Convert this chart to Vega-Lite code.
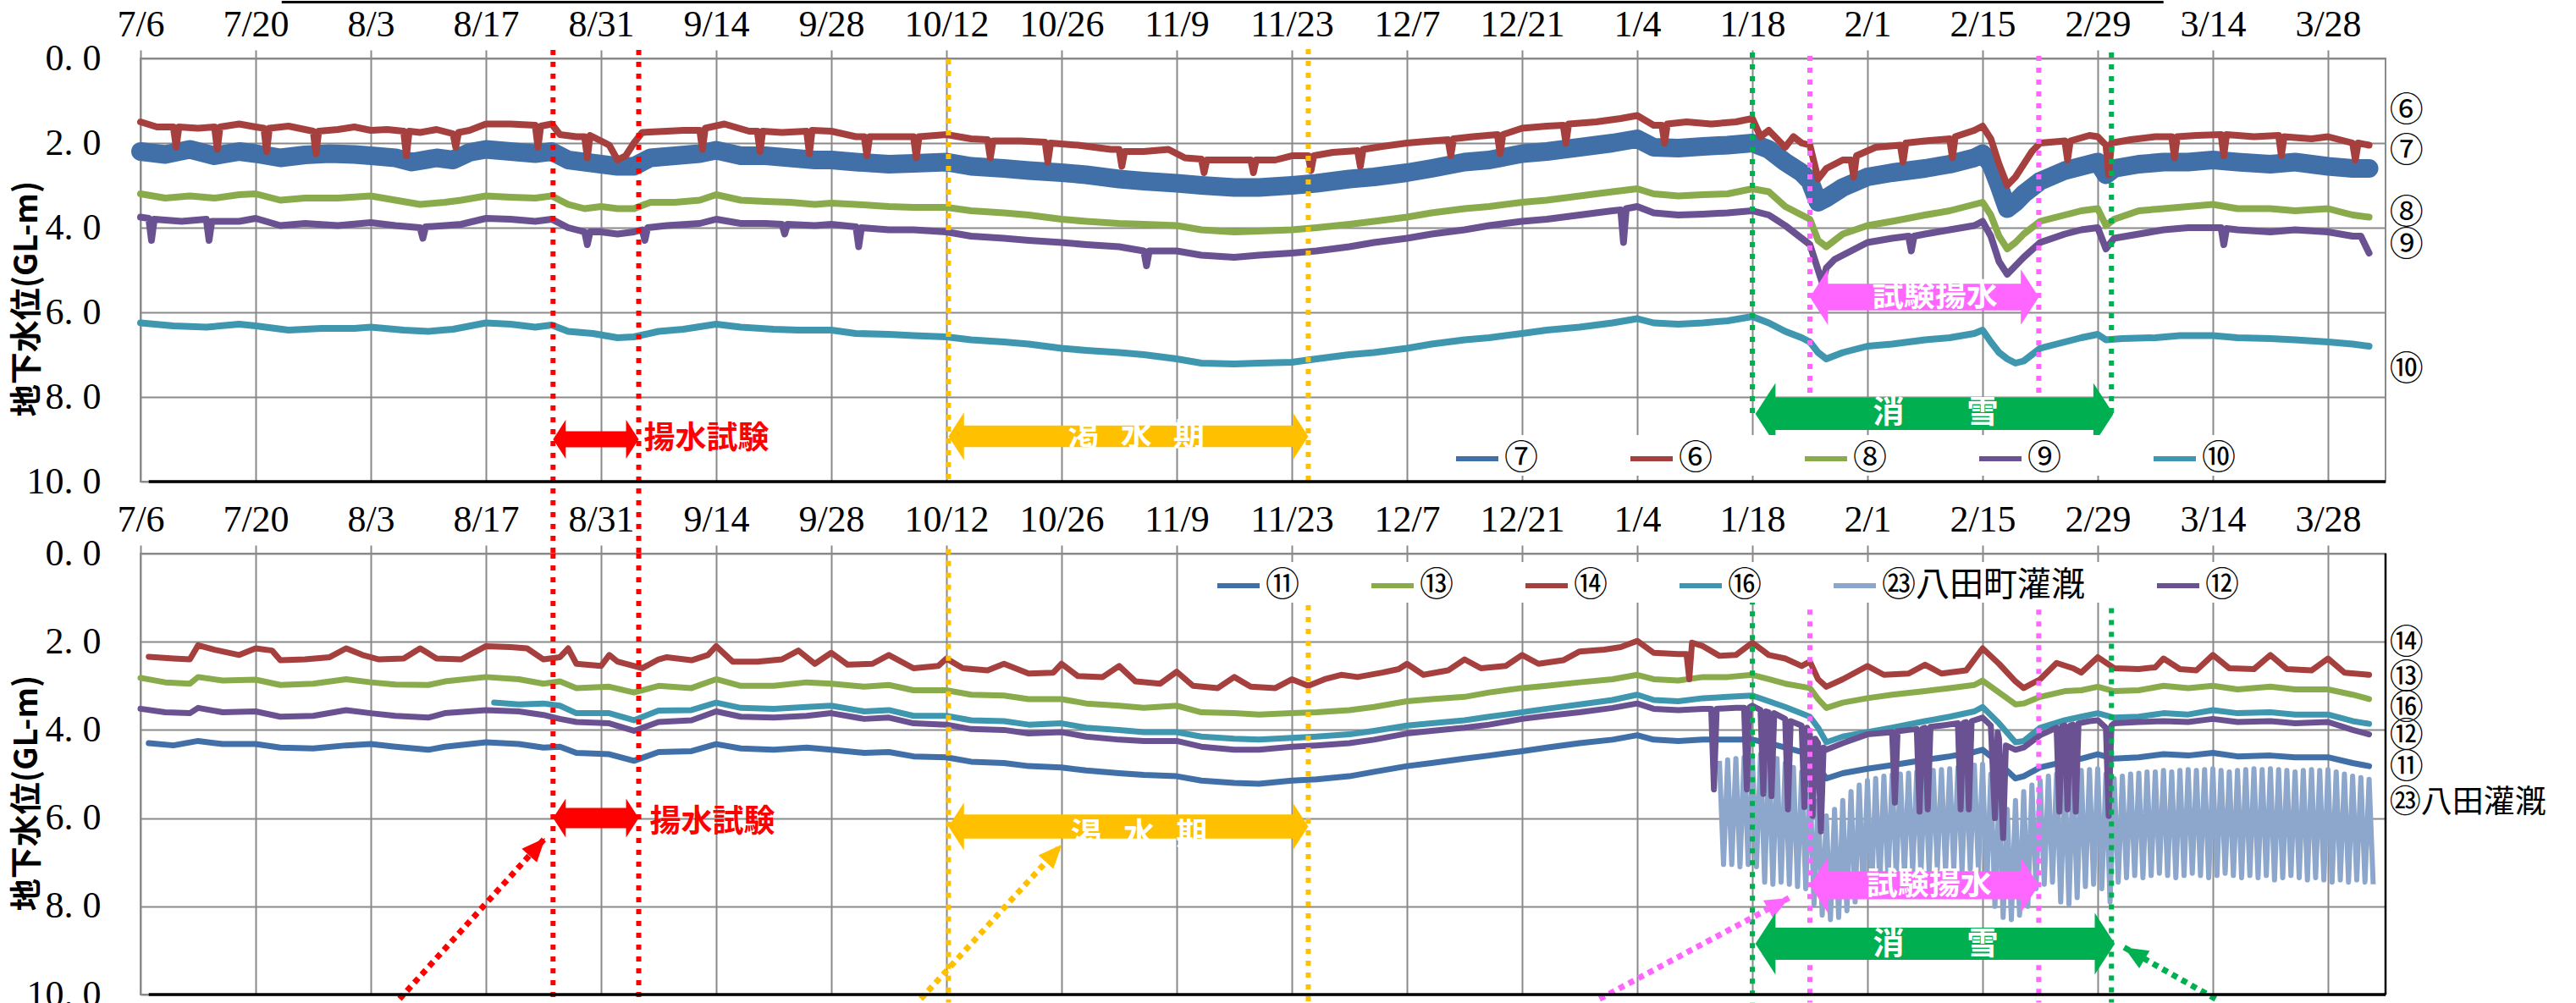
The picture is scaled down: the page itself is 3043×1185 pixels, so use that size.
{
"$schema":"https://vega.github.io/schema/vega-lite/v6.json",
"background":"white",
"padding":{"left":12,"top":0,"right":0,"bottom":0},
"bounds":"flush",
"spacing":85,
"config":{
 "view":{"stroke":"#8a8a8a","strokeWidth":2},
 "axis":{"labelFont":"Liberation Sans Narrow","labelFontSize":44,"labelColor":"black","gridColor":"#8a8a8a","gridWidth":2,"tickColor":"#8a8a8a","tickWidth":2,"domain":false},
 "legend":{"orient":"none","direction":"horizontal","symbolType":"stroke","symbolSize":2500,"symbolStrokeWidth":6,"labelFont":"Noto Sans CJK JP","labelFontSize":40,"labelColor":"black","labelLimit":400,"fillColor":"white","padding":0,"labelOffset":4}
},
"resolve":{"scale":{"x":"independent","y":"independent","color":"independent","strokeWidth":"independent","size":"independent","shape":"independent"},"legend":{"color":"independent"}},
"datasets":{
"top":[
{"s":"⑦","d":"2015-07-06","v":2.2},{"s":"⑦","d":"2015-07-09","v":2.27},{"s":"⑦","d":"2015-07-12","v":2.15},{"s":"⑦","d":"2015-07-15","v":2.3},{"s":"⑦","d":"2015-07-18","v":2.2},{"s":"⑦","d":"2015-07-20","v":2.25},{"s":"⑦","d":"2015-07-23","v":2.35},{"s":"⑦","d":"2015-07-26","v":2.28},{"s":"⑦","d":"2015-07-29","v":2.25},{"s":"⑦","d":"2015-08-01","v":2.27},{"s":"⑦","d":"2015-08-03","v":2.3},{"s":"⑦","d":"2015-08-06","v":2.35},{"s":"⑦","d":"2015-08-08","v":2.45},{"s":"⑦","d":"2015-08-11","v":2.35},{"s":"⑦","d":"2015-08-13","v":2.4},{"s":"⑦","d":"2015-08-15","v":2.22},{"s":"⑦","d":"2015-08-17","v":2.15},{"s":"⑦","d":"2015-08-20","v":2.2},{"s":"⑦","d":"2015-08-23","v":2.25},{"s":"⑦","d":"2015-08-25","v":2.2},{"s":"⑦","d":"2015-08-27","v":2.4},{"s":"⑦","d":"2015-08-29","v":2.45},{"s":"⑦","d":"2015-08-31","v":2.5},{"s":"⑦","d":"2015-09-02","v":2.55},{"s":"⑦","d":"2015-09-04","v":2.55},{"s":"⑦","d":"2015-09-06","v":2.35},{"s":"⑦","d":"2015-09-09","v":2.3},{"s":"⑦","d":"2015-09-12","v":2.25},{"s":"⑦","d":"2015-09-14","v":2.17},{"s":"⑦","d":"2015-09-17","v":2.3},{"s":"⑦","d":"2015-09-20","v":2.3},{"s":"⑦","d":"2015-09-23","v":2.35},{"s":"⑦","d":"2015-09-26","v":2.4},{"s":"⑦","d":"2015-09-28","v":2.4},{"s":"⑦","d":"2015-10-01","v":2.45},{"s":"⑦","d":"2015-10-05","v":2.5},{"s":"⑦","d":"2015-10-08","v":2.48},{"s":"⑦","d":"2015-10-12","v":2.45},{"s":"⑦","d":"2015-10-15","v":2.55},{"s":"⑦","d":"2015-10-19","v":2.6},{"s":"⑦","d":"2015-10-22","v":2.65},{"s":"⑦","d":"2015-10-26","v":2.7},{"s":"⑦","d":"2015-10-29","v":2.75},{"s":"⑦","d":"2015-11-02","v":2.85},{"s":"⑦","d":"2015-11-05","v":2.9},{"s":"⑦","d":"2015-11-09","v":2.95},{"s":"⑦","d":"2015-11-12","v":3.0},{"s":"⑦","d":"2015-11-16","v":3.05},{"s":"⑦","d":"2015-11-19","v":3.05},{"s":"⑦","d":"2015-11-23","v":3.0},{"s":"⑦","d":"2015-11-26","v":2.95},{"s":"⑦","d":"2015-11-30","v":2.85},{"s":"⑦","d":"2015-12-03","v":2.8},{"s":"⑦","d":"2015-12-07","v":2.7},{"s":"⑦","d":"2015-12-10","v":2.6},{"s":"⑦","d":"2015-12-14","v":2.45},{"s":"⑦","d":"2015-12-17","v":2.4},{"s":"⑦","d":"2015-12-21","v":2.25},{"s":"⑦","d":"2015-12-24","v":2.2},{"s":"⑦","d":"2015-12-28","v":2.1},{"s":"⑦","d":"2016-01-01","v":2.0},{"s":"⑦","d":"2016-01-04","v":1.9},{"s":"⑦","d":"2016-01-06","v":2.1},{"s":"⑦","d":"2016-01-09","v":2.12},{"s":"⑦","d":"2016-01-12","v":2.08},{"s":"⑦","d":"2016-01-15","v":2.05},{"s":"⑦","d":"2016-01-18","v":2.0},{"s":"⑦","d":"2016-01-20","v":2.15},{"s":"⑦","d":"2016-01-22","v":2.45},{"s":"⑦","d":"2016-01-24","v":2.7},{"s":"⑦","d":"2016-01-25","v":2.9},{"s":"⑦","d":"2016-01-26","v":3.4},{"s":"⑦","d":"2016-01-27","v":3.3},{"s":"⑦","d":"2016-01-29","v":3.05},{"s":"⑦","d":"2016-02-01","v":2.8},{"s":"⑦","d":"2016-02-04","v":2.7},{"s":"⑦","d":"2016-02-08","v":2.6},{"s":"⑦","d":"2016-02-11","v":2.5},{"s":"⑦","d":"2016-02-14","v":2.35},{"s":"⑦","d":"2016-02-15","v":2.25},{"s":"⑦","d":"2016-02-16","v":2.5},{"s":"⑦","d":"2016-02-17","v":3.0},{"s":"⑦","d":"2016-02-18","v":3.55},{"s":"⑦","d":"2016-02-19","v":3.4},{"s":"⑦","d":"2016-02-20","v":3.2},{"s":"⑦","d":"2016-02-22","v":2.9},{"s":"⑦","d":"2016-02-25","v":2.65},{"s":"⑦","d":"2016-02-27","v":2.55},{"s":"⑦","d":"2016-02-29","v":2.45},{"s":"⑦","d":"2016-03-01","v":2.75},{"s":"⑦","d":"2016-03-02","v":2.6},{"s":"⑦","d":"2016-03-05","v":2.5},{"s":"⑦","d":"2016-03-08","v":2.45},{"s":"⑦","d":"2016-03-11","v":2.45},{"s":"⑦","d":"2016-03-14","v":2.4},{"s":"⑦","d":"2016-03-17","v":2.45},{"s":"⑦","d":"2016-03-21","v":2.5},{"s":"⑦","d":"2016-03-24","v":2.45},{"s":"⑦","d":"2016-03-28","v":2.55},{"s":"⑦","d":"2016-03-31","v":2.6},{"s":"⑦","d":"2016-04-02","v":2.6},
{"s":"⑥","d":"2015-07-06","v":1.5},{"s":"⑥","d":"2015-07-08","v":1.62},{"s":"⑥","d":"2015-07-10","v":1.62},{"s":"⑥","d":"2015-07-10T08:00Z","v":2.1},{"s":"⑥","d":"2015-07-10T16:00Z","v":1.62},{"s":"⑥","d":"2015-07-13","v":1.65},{"s":"⑥","d":"2015-07-15","v":1.62},{"s":"⑥","d":"2015-07-15T08:00Z","v":2.15},{"s":"⑥","d":"2015-07-15T16:00Z","v":1.62},{"s":"⑥","d":"2015-07-18","v":1.55},{"s":"⑥","d":"2015-07-20","v":1.62},{"s":"⑥","d":"2015-07-21","v":1.65},{"s":"⑥","d":"2015-07-21T08:00Z","v":2.2},{"s":"⑥","d":"2015-07-21T16:00Z","v":1.65},{"s":"⑥","d":"2015-07-24","v":1.6},{"s":"⑥","d":"2015-07-27","v":1.72},{"s":"⑥","d":"2015-07-27T08:00Z","v":2.25},{"s":"⑥","d":"2015-07-27T16:00Z","v":1.72},{"s":"⑥","d":"2015-07-30","v":1.68},{"s":"⑥","d":"2015-08-01","v":1.62},{"s":"⑥","d":"2015-08-03","v":1.7},{"s":"⑥","d":"2015-08-05","v":1.68},{"s":"⑥","d":"2015-08-07","v":1.72},{"s":"⑥","d":"2015-08-07T08:00Z","v":2.3},{"s":"⑥","d":"2015-08-07T16:00Z","v":1.72},{"s":"⑥","d":"2015-08-09","v":1.75},{"s":"⑥","d":"2015-08-11","v":1.68},{"s":"⑥","d":"2015-08-13","v":1.78},{"s":"⑥","d":"2015-08-13T08:00Z","v":2.1},{"s":"⑥","d":"2015-08-13T16:00Z","v":1.75},{"s":"⑥","d":"2015-08-15","v":1.7},{"s":"⑥","d":"2015-08-17","v":1.55},{"s":"⑥","d":"2015-08-20","v":1.55},{"s":"⑥","d":"2015-08-23","v":1.58},{"s":"⑥","d":"2015-08-23T08:00Z","v":2.1},{"s":"⑥","d":"2015-08-23T16:00Z","v":1.6},{"s":"⑥","d":"2015-08-25","v":1.55},{"s":"⑥","d":"2015-08-26","v":1.8},{"s":"⑥","d":"2015-08-28","v":1.85},{"s":"⑥","d":"2015-08-29","v":1.85},{"s":"⑥","d":"2015-08-29T08:00Z","v":2.35},{"s":"⑥","d":"2015-08-29T16:00Z","v":1.82},{"s":"⑥","d":"2015-08-31","v":1.95},{"s":"⑥","d":"2015-09-01","v":2.05},{"s":"⑥","d":"2015-09-02","v":2.4},{"s":"⑥","d":"2015-09-03","v":2.3},{"s":"⑥","d":"2015-09-04","v":2.0},{"s":"⑥","d":"2015-09-05","v":1.75},{"s":"⑥","d":"2015-09-08","v":1.72},{"s":"⑥","d":"2015-09-10","v":1.7},{"s":"⑥","d":"2015-09-12","v":1.7},{"s":"⑥","d":"2015-09-12T08:00Z","v":2.15},{"s":"⑥","d":"2015-09-12T16:00Z","v":1.65},{"s":"⑥","d":"2015-09-15","v":1.55},{"s":"⑥","d":"2015-09-18","v":1.72},{"s":"⑥","d":"2015-09-19","v":1.72},{"s":"⑥","d":"2015-09-19T08:00Z","v":2.2},{"s":"⑥","d":"2015-09-19T16:00Z","v":1.72},{"s":"⑥","d":"2015-09-22","v":1.75},{"s":"⑥","d":"2015-09-25","v":1.72},{"s":"⑥","d":"2015-09-25T08:00Z","v":2.25},{"s":"⑥","d":"2015-09-25T16:00Z","v":1.7},{"s":"⑥","d":"2015-09-28","v":1.72},{"s":"⑥","d":"2015-10-01","v":1.85},{"s":"⑥","d":"2015-10-02","v":1.85},{"s":"⑥","d":"2015-10-02T08:00Z","v":2.3},{"s":"⑥","d":"2015-10-02T16:00Z","v":1.85},{"s":"⑥","d":"2015-10-05","v":1.85},{"s":"⑥","d":"2015-10-08","v":1.85},{"s":"⑥","d":"2015-10-08T08:00Z","v":2.35},{"s":"⑥","d":"2015-10-08T16:00Z","v":1.85},{"s":"⑥","d":"2015-10-12","v":1.8},{"s":"⑥","d":"2015-10-15","v":1.9},{"s":"⑥","d":"2015-10-17","v":1.92},{"s":"⑥","d":"2015-10-17T08:00Z","v":2.35},{"s":"⑥","d":"2015-10-17T16:00Z","v":1.95},{"s":"⑥","d":"2015-10-21","v":1.95},{"s":"⑥","d":"2015-10-24","v":1.98},{"s":"⑥","d":"2015-10-24T08:00Z","v":2.45},{"s":"⑥","d":"2015-10-24T16:00Z","v":2.0},{"s":"⑥","d":"2015-10-28","v":2.05},{"s":"⑥","d":"2015-11-01","v":2.15},{"s":"⑥","d":"2015-11-02","v":2.15},{"s":"⑥","d":"2015-11-02T08:00Z","v":2.55},{"s":"⑥","d":"2015-11-02T16:00Z","v":2.2},{"s":"⑥","d":"2015-11-05","v":2.2},{"s":"⑥","d":"2015-11-08","v":2.15},{"s":"⑥","d":"2015-11-10","v":2.35},{"s":"⑥","d":"2015-11-12","v":2.38},{"s":"⑥","d":"2015-11-12T08:00Z","v":2.7},{"s":"⑥","d":"2015-11-12T16:00Z","v":2.4},{"s":"⑥","d":"2015-11-15","v":2.4},{"s":"⑥","d":"2015-11-18","v":2.4},{"s":"⑥","d":"2015-11-18T08:00Z","v":2.7},{"s":"⑥","d":"2015-11-18T16:00Z","v":2.4},{"s":"⑥","d":"2015-11-21","v":2.4},{"s":"⑥","d":"2015-11-23","v":2.3},{"s":"⑥","d":"2015-11-25","v":2.3},{"s":"⑥","d":"2015-11-25T08:00Z","v":2.65},{"s":"⑥","d":"2015-11-25T16:00Z","v":2.3},{"s":"⑥","d":"2015-11-28","v":2.22},{"s":"⑥","d":"2015-12-01","v":2.18},{"s":"⑥","d":"2015-12-01T08:00Z","v":2.55},{"s":"⑥","d":"2015-12-01T16:00Z","v":2.15},{"s":"⑥","d":"2015-12-04","v":2.08},{"s":"⑥","d":"2015-12-07","v":2.0},{"s":"⑥","d":"2015-12-10","v":1.95},{"s":"⑥","d":"2015-12-12","v":1.92},{"s":"⑥","d":"2015-12-12T08:00Z","v":2.3},{"s":"⑥","d":"2015-12-12T16:00Z","v":1.9},{"s":"⑥","d":"2015-12-15","v":1.85},{"s":"⑥","d":"2015-12-18","v":1.8},{"s":"⑥","d":"2015-12-18T08:00Z","v":2.25},{"s":"⑥","d":"2015-12-18T16:00Z","v":1.8},{"s":"⑥","d":"2015-12-21","v":1.65},{"s":"⑥","d":"2015-12-24","v":1.6},{"s":"⑥","d":"2015-12-26","v":1.58},{"s":"⑥","d":"2015-12-26T08:00Z","v":2.0},{"s":"⑥","d":"2015-12-26T16:00Z","v":1.55},{"s":"⑥","d":"2015-12-30","v":1.5},{"s":"⑥","d":"2016-01-02","v":1.42},{"s":"⑥","d":"2016-01-04","v":1.35},{"s":"⑥","d":"2016-01-06","v":1.58},{"s":"⑥","d":"2016-01-07","v":1.58},{"s":"⑥","d":"2016-01-07T08:00Z","v":2.0},{"s":"⑥","d":"2016-01-07T16:00Z","v":1.55},{"s":"⑥","d":"2016-01-10","v":1.5},{"s":"⑥","d":"2016-01-13","v":1.55},{"s":"⑥","d":"2016-01-16","v":1.5},{"s":"⑥","d":"2016-01-18","v":1.42},{"s":"⑥","d":"2016-01-19","v":1.85},{"s":"⑥","d":"2016-01-20","v":1.7},{"s":"⑥","d":"2016-01-22","v":2.1},{"s":"⑥","d":"2016-01-23","v":1.85},{"s":"⑥","d":"2016-01-24","v":2.0},{"s":"⑥","d":"2016-01-25","v":2.05},{"s":"⑥","d":"2016-01-26","v":2.85},{"s":"⑥","d":"2016-01-27","v":2.6},{"s":"⑥","d":"2016-01-29","v":2.4},{"s":"⑥","d":"2016-01-30","v":2.4},{"s":"⑥","d":"2016-01-30T08:00Z","v":2.8},{"s":"⑥","d":"2016-01-30T16:00Z","v":2.3},{"s":"⑥","d":"2016-02-02","v":2.1},{"s":"⑥","d":"2016-02-05","v":2.05},{"s":"⑥","d":"2016-02-05T08:00Z","v":2.45},{"s":"⑥","d":"2016-02-05T16:00Z","v":2.0},{"s":"⑥","d":"2016-02-08","v":1.95},{"s":"⑥","d":"2016-02-11","v":1.9},{"s":"⑥","d":"2016-02-11T08:00Z","v":2.35},{"s":"⑥","d":"2016-02-11T16:00Z","v":1.85},{"s":"⑥","d":"2016-02-14","v":1.7},{"s":"⑥","d":"2016-02-15","v":1.6},{"s":"⑥","d":"2016-02-16","v":1.9},{"s":"⑥","d":"2016-02-17","v":2.5},{"s":"⑥","d":"2016-02-18","v":3.0},{"s":"⑥","d":"2016-02-19","v":2.8},{"s":"⑥","d":"2016-02-20","v":2.5},{"s":"⑥","d":"2016-02-21","v":2.2},{"s":"⑥","d":"2016-02-22","v":2.0},{"s":"⑥","d":"2016-02-25","v":1.95},{"s":"⑥","d":"2016-02-25T08:00Z","v":2.4},{"s":"⑥","d":"2016-02-25T16:00Z","v":1.95},{"s":"⑥","d":"2016-02-28","v":1.82},{"s":"⑥","d":"2016-02-29","v":1.85},{"s":"⑥","d":"2016-03-01","v":2.05},{"s":"⑥","d":"2016-03-01T08:00Z","v":2.75},{"s":"⑥","d":"2016-03-01T16:00Z","v":2.0},{"s":"⑥","d":"2016-03-04","v":1.92},{"s":"⑥","d":"2016-03-07","v":1.85},{"s":"⑥","d":"2016-03-09","v":1.85},{"s":"⑥","d":"2016-03-09T08:00Z","v":2.35},{"s":"⑥","d":"2016-03-09T16:00Z","v":1.85},{"s":"⑥","d":"2016-03-12","v":1.82},{"s":"⑥","d":"2016-03-15","v":1.8},{"s":"⑥","d":"2016-03-15T08:00Z","v":2.3},{"s":"⑥","d":"2016-03-15T16:00Z","v":1.8},{"s":"⑥","d":"2016-03-19","v":1.85},{"s":"⑥","d":"2016-03-22","v":1.82},{"s":"⑥","d":"2016-03-22T08:00Z","v":2.3},{"s":"⑥","d":"2016-03-22T16:00Z","v":1.85},{"s":"⑥","d":"2016-03-26","v":1.9},{"s":"⑥","d":"2016-03-28","v":1.85},{"s":"⑥","d":"2016-03-31","v":2.0},{"s":"⑥","d":"2016-03-31T08:00Z","v":2.4},{"s":"⑥","d":"2016-03-31T16:00Z","v":2.0},{"s":"⑥","d":"2016-04-02","v":2.05},
{"s":"⑧","d":"2015-07-06","v":3.2},{"s":"⑧","d":"2015-07-09","v":3.3},{"s":"⑧","d":"2015-07-12","v":3.25},{"s":"⑧","d":"2015-07-15","v":3.3},{"s":"⑧","d":"2015-07-18","v":3.22},{"s":"⑧","d":"2015-07-20","v":3.2},{"s":"⑧","d":"2015-07-23","v":3.35},{"s":"⑧","d":"2015-07-26","v":3.3},{"s":"⑧","d":"2015-07-30","v":3.3},{"s":"⑧","d":"2015-08-03","v":3.25},{"s":"⑧","d":"2015-08-06","v":3.35},{"s":"⑧","d":"2015-08-09","v":3.45},{"s":"⑧","d":"2015-08-12","v":3.4},{"s":"⑧","d":"2015-08-14","v":3.35},{"s":"⑧","d":"2015-08-17","v":3.25},{"s":"⑧","d":"2015-08-20","v":3.28},{"s":"⑧","d":"2015-08-23","v":3.3},{"s":"⑧","d":"2015-08-25","v":3.25},{"s":"⑧","d":"2015-08-27","v":3.45},{"s":"⑧","d":"2015-08-29","v":3.55},{"s":"⑧","d":"2015-08-31","v":3.5},{"s":"⑧","d":"2015-09-02","v":3.55},{"s":"⑧","d":"2015-09-04","v":3.55},{"s":"⑧","d":"2015-09-06","v":3.4},{"s":"⑧","d":"2015-09-09","v":3.4},{"s":"⑧","d":"2015-09-12","v":3.35},{"s":"⑧","d":"2015-09-14","v":3.22},{"s":"⑧","d":"2015-09-17","v":3.35},{"s":"⑧","d":"2015-09-20","v":3.38},{"s":"⑧","d":"2015-09-23","v":3.4},{"s":"⑧","d":"2015-09-26","v":3.45},{"s":"⑧","d":"2015-09-28","v":3.42},{"s":"⑧","d":"2015-10-01","v":3.45},{"s":"⑧","d":"2015-10-05","v":3.5},{"s":"⑧","d":"2015-10-08","v":3.52},{"s":"⑧","d":"2015-10-12","v":3.52},{"s":"⑧","d":"2015-10-15","v":3.6},{"s":"⑧","d":"2015-10-19","v":3.65},{"s":"⑧","d":"2015-10-22","v":3.7},{"s":"⑧","d":"2015-10-26","v":3.8},{"s":"⑧","d":"2015-10-29","v":3.85},{"s":"⑧","d":"2015-11-02","v":3.9},{"s":"⑧","d":"2015-11-05","v":3.92},{"s":"⑧","d":"2015-11-09","v":3.95},{"s":"⑧","d":"2015-11-12","v":4.05},{"s":"⑧","d":"2015-11-16","v":4.1},{"s":"⑧","d":"2015-11-19","v":4.08},{"s":"⑧","d":"2015-11-23","v":4.05},{"s":"⑧","d":"2015-11-26","v":4.0},{"s":"⑧","d":"2015-11-30","v":3.92},{"s":"⑧","d":"2015-12-03","v":3.85},{"s":"⑧","d":"2015-12-07","v":3.75},{"s":"⑧","d":"2015-12-10","v":3.65},{"s":"⑧","d":"2015-12-14","v":3.55},{"s":"⑧","d":"2015-12-17","v":3.5},{"s":"⑧","d":"2015-12-21","v":3.4},{"s":"⑧","d":"2015-12-24","v":3.35},{"s":"⑧","d":"2015-12-28","v":3.25},{"s":"⑧","d":"2016-01-01","v":3.15},{"s":"⑧","d":"2016-01-04","v":3.08},{"s":"⑧","d":"2016-01-06","v":3.2},{"s":"⑧","d":"2016-01-09","v":3.25},{"s":"⑧","d":"2016-01-12","v":3.22},{"s":"⑧","d":"2016-01-15","v":3.2},{"s":"⑧","d":"2016-01-18","v":3.08},{"s":"⑧","d":"2016-01-20","v":3.15},{"s":"⑧","d":"2016-01-22","v":3.5},{"s":"⑧","d":"2016-01-24","v":3.7},{"s":"⑧","d":"2016-01-25","v":3.8},{"s":"⑧","d":"2016-01-26","v":4.3},{"s":"⑧","d":"2016-01-27","v":4.45},{"s":"⑧","d":"2016-01-29","v":4.15},{"s":"⑧","d":"2016-02-01","v":3.95},{"s":"⑧","d":"2016-02-04","v":3.85},{"s":"⑧","d":"2016-02-08","v":3.7},{"s":"⑧","d":"2016-02-11","v":3.6},{"s":"⑧","d":"2016-02-14","v":3.45},{"s":"⑧","d":"2016-02-15","v":3.4},{"s":"⑧","d":"2016-02-16","v":3.7},{"s":"⑧","d":"2016-02-17","v":4.2},{"s":"⑧","d":"2016-02-18","v":4.5},{"s":"⑧","d":"2016-02-19","v":4.35},{"s":"⑧","d":"2016-02-20","v":4.15},{"s":"⑧","d":"2016-02-22","v":3.85},{"s":"⑧","d":"2016-02-25","v":3.7},{"s":"⑧","d":"2016-02-27","v":3.6},{"s":"⑧","d":"2016-02-29","v":3.55},{"s":"⑧","d":"2016-03-01","v":3.95},{"s":"⑧","d":"2016-03-02","v":3.8},{"s":"⑧","d":"2016-03-05","v":3.6},{"s":"⑧","d":"2016-03-08","v":3.55},{"s":"⑧","d":"2016-03-11","v":3.5},{"s":"⑧","d":"2016-03-14","v":3.45},{"s":"⑧","d":"2016-03-17","v":3.55},{"s":"⑧","d":"2016-03-21","v":3.55},{"s":"⑧","d":"2016-03-24","v":3.6},{"s":"⑧","d":"2016-03-28","v":3.55},{"s":"⑧","d":"2016-03-31","v":3.7},{"s":"⑧","d":"2016-04-02","v":3.75},
{"s":"⑨","d":"2015-07-06","v":3.75},{"s":"⑨","d":"2015-07-07","v":3.78},{"s":"⑨","d":"2015-07-07T08:00Z","v":4.3},{"s":"⑨","d":"2015-07-07T16:00Z","v":3.8},{"s":"⑨","d":"2015-07-11","v":3.85},{"s":"⑨","d":"2015-07-14","v":3.8},{"s":"⑨","d":"2015-07-14T08:00Z","v":4.3},{"s":"⑨","d":"2015-07-14T16:00Z","v":3.85},{"s":"⑨","d":"2015-07-18","v":3.85},{"s":"⑨","d":"2015-07-20","v":3.78},{"s":"⑨","d":"2015-07-23","v":3.95},{"s":"⑨","d":"2015-07-26","v":3.9},{"s":"⑨","d":"2015-07-30","v":3.95},{"s":"⑨","d":"2015-08-03","v":3.88},{"s":"⑨","d":"2015-08-06","v":3.95},{"s":"⑨","d":"2015-08-09","v":4.0},{"s":"⑨","d":"2015-08-09T08:00Z","v":4.25},{"s":"⑨","d":"2015-08-09T16:00Z","v":3.98},{"s":"⑨","d":"2015-08-12","v":3.95},{"s":"⑨","d":"2015-08-14","v":3.92},{"s":"⑨","d":"2015-08-17","v":3.78},{"s":"⑨","d":"2015-08-20","v":3.8},{"s":"⑨","d":"2015-08-23","v":3.85},{"s":"⑨","d":"2015-08-25","v":3.8},{"s":"⑨","d":"2015-08-27","v":4.0},{"s":"⑨","d":"2015-08-29","v":4.1},{"s":"⑨","d":"2015-08-29T08:00Z","v":4.4},{"s":"⑨","d":"2015-08-29T16:00Z","v":4.1},{"s":"⑨","d":"2015-08-31","v":4.1},{"s":"⑨","d":"2015-09-02","v":4.15},{"s":"⑨","d":"2015-09-04","v":4.1},{"s":"⑨","d":"2015-09-05","v":4.05},{"s":"⑨","d":"2015-09-05T08:00Z","v":4.3},{"s":"⑨","d":"2015-09-05T16:00Z","v":4.0},{"s":"⑨","d":"2015-09-08","v":3.95},{"s":"⑨","d":"2015-09-12","v":3.9},{"s":"⑨","d":"2015-09-14","v":3.8},{"s":"⑨","d":"2015-09-17","v":3.9},{"s":"⑨","d":"2015-09-20","v":3.9},{"s":"⑨","d":"2015-09-22","v":3.92},{"s":"⑨","d":"2015-09-22T08:00Z","v":4.15},{"s":"⑨","d":"2015-09-22T16:00Z","v":3.92},{"s":"⑨","d":"2015-09-26","v":3.95},{"s":"⑨","d":"2015-09-28","v":3.92},{"s":"⑨","d":"2015-10-01","v":3.98},{"s":"⑨","d":"2015-10-01T08:00Z","v":4.45},{"s":"⑨","d":"2015-10-01T16:00Z","v":4.0},{"s":"⑨","d":"2015-10-05","v":4.05},{"s":"⑨","d":"2015-10-08","v":4.05},{"s":"⑨","d":"2015-10-12","v":4.1},{"s":"⑨","d":"2015-10-15","v":4.2},{"s":"⑨","d":"2015-10-19","v":4.25},{"s":"⑨","d":"2015-10-22","v":4.3},{"s":"⑨","d":"2015-10-26","v":4.35},{"s":"⑨","d":"2015-10-29","v":4.4},{"s":"⑨","d":"2015-11-02","v":4.45},{"s":"⑨","d":"2015-11-05","v":4.55},{"s":"⑨","d":"2015-11-05T08:00Z","v":4.9},{"s":"⑨","d":"2015-11-05T16:00Z","v":4.55},{"s":"⑨","d":"2015-11-09","v":4.55},{"s":"⑨","d":"2015-11-12","v":4.65},{"s":"⑨","d":"2015-11-16","v":4.7},{"s":"⑨","d":"2015-11-19","v":4.65},{"s":"⑨","d":"2015-11-23","v":4.6},{"s":"⑨","d":"2015-11-26","v":4.55},{"s":"⑨","d":"2015-11-30","v":4.45},{"s":"⑨","d":"2015-12-03","v":4.35},{"s":"⑨","d":"2015-12-07","v":4.25},{"s":"⑨","d":"2015-12-10","v":4.15},{"s":"⑨","d":"2015-12-14","v":4.05},{"s":"⑨","d":"2015-12-17","v":3.95},{"s":"⑨","d":"2015-12-21","v":3.85},{"s":"⑨","d":"2015-12-24","v":3.8},{"s":"⑨","d":"2015-12-28","v":3.7},{"s":"⑨","d":"2016-01-01","v":3.6},{"s":"⑨","d":"2016-01-02","v":3.58},{"s":"⑨","d":"2016-01-02T08:00Z","v":4.35},{"s":"⑨","d":"2016-01-02T16:00Z","v":3.55},{"s":"⑨","d":"2016-01-04","v":3.5},{"s":"⑨","d":"2016-01-06","v":3.65},{"s":"⑨","d":"2016-01-09","v":3.7},{"s":"⑨","d":"2016-01-12","v":3.68},{"s":"⑨","d":"2016-01-15","v":3.65},{"s":"⑨","d":"2016-01-18","v":3.6},{"s":"⑨","d":"2016-01-20","v":3.7},{"s":"⑨","d":"2016-01-22","v":3.95},{"s":"⑨","d":"2016-01-24","v":4.25},{"s":"⑨","d":"2016-01-25","v":4.4},{"s":"⑨","d":"2016-01-26","v":5.0},{"s":"⑨","d":"2016-01-26T12:00Z","v":5.3},{"s":"⑨","d":"2016-01-27","v":4.95},{"s":"⑨","d":"2016-01-28","v":4.75},{"s":"⑨","d":"2016-01-30","v":4.55},{"s":"⑨","d":"2016-02-01","v":4.35},{"s":"⑨","d":"2016-02-04","v":4.25},{"s":"⑨","d":"2016-02-06","v":4.2},{"s":"⑨","d":"2016-02-06T08:00Z","v":4.55},{"s":"⑨","d":"2016-02-06T16:00Z","v":4.2},{"s":"⑨","d":"2016-02-08","v":4.15},{"s":"⑨","d":"2016-02-11","v":4.05},{"s":"⑨","d":"2016-02-14","v":3.95},{"s":"⑨","d":"2016-02-15","v":3.85},{"s":"⑨","d":"2016-02-16","v":4.2},{"s":"⑨","d":"2016-02-17","v":4.8},{"s":"⑨","d":"2016-02-18","v":5.1},{"s":"⑨","d":"2016-02-19","v":4.9},{"s":"⑨","d":"2016-02-20","v":4.7},{"s":"⑨","d":"2016-02-22","v":4.35},{"s":"⑨","d":"2016-02-25","v":4.15},{"s":"⑨","d":"2016-02-27","v":4.05},{"s":"⑨","d":"2016-02-29","v":4.0},{"s":"⑨","d":"2016-03-01","v":4.5},{"s":"⑨","d":"2016-03-02","v":4.25},{"s":"⑨","d":"2016-03-05","v":4.15},{"s":"⑨","d":"2016-03-08","v":4.05},{"s":"⑨","d":"2016-03-11","v":4.0},{"s":"⑨","d":"2016-03-14","v":4.0},{"s":"⑨","d":"2016-03-15","v":4.0},{"s":"⑨","d":"2016-03-15T08:00Z","v":4.4},{"s":"⑨","d":"2016-03-15T16:00Z","v":4.02},{"s":"⑨","d":"2016-03-17","v":4.05},{"s":"⑨","d":"2016-03-21","v":4.1},{"s":"⑨","d":"2016-03-24","v":4.05},{"s":"⑨","d":"2016-03-28","v":4.1},{"s":"⑨","d":"2016-03-31","v":4.2},{"s":"⑨","d":"2016-04-01","v":4.2},{"s":"⑨","d":"2016-04-02","v":4.6},
{"s":"⑩","d":"2015-07-06","v":6.25},{"s":"⑩","d":"2015-07-10","v":6.32},{"s":"⑩","d":"2015-07-14","v":6.35},{"s":"⑩","d":"2015-07-18","v":6.28},{"s":"⑩","d":"2015-07-20","v":6.32},{"s":"⑩","d":"2015-07-24","v":6.42},{"s":"⑩","d":"2015-07-28","v":6.38},{"s":"⑩","d":"2015-08-01","v":6.38},{"s":"⑩","d":"2015-08-03","v":6.35},{"s":"⑩","d":"2015-08-07","v":6.42},{"s":"⑩","d":"2015-08-10","v":6.45},{"s":"⑩","d":"2015-08-13","v":6.4},{"s":"⑩","d":"2015-08-17","v":6.25},{"s":"⑩","d":"2015-08-20","v":6.28},{"s":"⑩","d":"2015-08-23","v":6.35},{"s":"⑩","d":"2015-08-25","v":6.3},{"s":"⑩","d":"2015-08-27","v":6.45},{"s":"⑩","d":"2015-08-30","v":6.5},{"s":"⑩","d":"2015-09-02","v":6.6},{"s":"⑩","d":"2015-09-04","v":6.58},{"s":"⑩","d":"2015-09-07","v":6.45},{"s":"⑩","d":"2015-09-10","v":6.4},{"s":"⑩","d":"2015-09-14","v":6.28},{"s":"⑩","d":"2015-09-17","v":6.35},{"s":"⑩","d":"2015-09-21","v":6.4},{"s":"⑩","d":"2015-09-24","v":6.42},{"s":"⑩","d":"2015-09-28","v":6.42},{"s":"⑩","d":"2015-10-01","v":6.5},{"s":"⑩","d":"2015-10-05","v":6.52},{"s":"⑩","d":"2015-10-08","v":6.55},{"s":"⑩","d":"2015-10-12","v":6.58},{"s":"⑩","d":"2015-10-15","v":6.65},{"s":"⑩","d":"2015-10-19","v":6.7},{"s":"⑩","d":"2015-10-22","v":6.75},{"s":"⑩","d":"2015-10-26","v":6.85},{"s":"⑩","d":"2015-10-29","v":6.9},{"s":"⑩","d":"2015-11-02","v":6.95},{"s":"⑩","d":"2015-11-05","v":7.0},{"s":"⑩","d":"2015-11-09","v":7.1},{"s":"⑩","d":"2015-11-12","v":7.2},{"s":"⑩","d":"2015-11-16","v":7.22},{"s":"⑩","d":"2015-11-19","v":7.2},{"s":"⑩","d":"2015-11-23","v":7.18},{"s":"⑩","d":"2015-11-26","v":7.1},{"s":"⑩","d":"2015-11-30","v":7.0},{"s":"⑩","d":"2015-12-03","v":6.95},{"s":"⑩","d":"2015-12-07","v":6.85},{"s":"⑩","d":"2015-12-10","v":6.75},{"s":"⑩","d":"2015-12-14","v":6.65},{"s":"⑩","d":"2015-12-17","v":6.6},{"s":"⑩","d":"2015-12-21","v":6.5},{"s":"⑩","d":"2015-12-24","v":6.42},{"s":"⑩","d":"2015-12-28","v":6.35},{"s":"⑩","d":"2016-01-01","v":6.25},{"s":"⑩","d":"2016-01-04","v":6.15},{"s":"⑩","d":"2016-01-06","v":6.25},{"s":"⑩","d":"2016-01-09","v":6.28},{"s":"⑩","d":"2016-01-12","v":6.25},{"s":"⑩","d":"2016-01-15","v":6.2},{"s":"⑩","d":"2016-01-18","v":6.1},{"s":"⑩","d":"2016-01-20","v":6.25},{"s":"⑩","d":"2016-01-22","v":6.45},{"s":"⑩","d":"2016-01-24","v":6.6},{"s":"⑩","d":"2016-01-25","v":6.7},{"s":"⑩","d":"2016-01-26","v":6.95},{"s":"⑩","d":"2016-01-27","v":7.1},{"s":"⑩","d":"2016-01-29","v":6.95},{"s":"⑩","d":"2016-02-01","v":6.8},{"s":"⑩","d":"2016-02-04","v":6.75},{"s":"⑩","d":"2016-02-08","v":6.65},{"s":"⑩","d":"2016-02-11","v":6.6},{"s":"⑩","d":"2016-02-14","v":6.5},{"s":"⑩","d":"2016-02-15","v":6.42},{"s":"⑩","d":"2016-02-16","v":6.7},{"s":"⑩","d":"2016-02-17","v":6.95},{"s":"⑩","d":"2016-02-18","v":7.1},{"s":"⑩","d":"2016-02-19","v":7.2},{"s":"⑩","d":"2016-02-20","v":7.15},{"s":"⑩","d":"2016-02-22","v":6.85},{"s":"⑩","d":"2016-02-25","v":6.7},{"s":"⑩","d":"2016-02-27","v":6.6},{"s":"⑩","d":"2016-02-29","v":6.52},{"s":"⑩","d":"2016-03-01","v":6.65},{"s":"⑩","d":"2016-03-03","v":6.62},{"s":"⑩","d":"2016-03-07","v":6.6},{"s":"⑩","d":"2016-03-10","v":6.55},{"s":"⑩","d":"2016-03-14","v":6.55},{"s":"⑩","d":"2016-03-17","v":6.6},{"s":"⑩","d":"2016-03-21","v":6.62},{"s":"⑩","d":"2016-03-24","v":6.65},{"s":"⑩","d":"2016-03-28","v":6.7},{"s":"⑩","d":"2016-03-31","v":6.75},{"s":"⑩","d":"2016-04-02","v":6.8}
],
"bot":[
{"s":"㉓八田町灌漑","d":"2016-01-14","v":4.7},{"s":"㉓八田町灌漑","d":"2016-01-14T12:00Z","v":7.05},{"s":"㉓八田町灌漑","d":"2016-01-15","v":4.68},{"s":"㉓八田町灌漑","d":"2016-01-15T12:00Z","v":7.05},{"s":"㉓八田町灌漑","d":"2016-01-16","v":4.65},{"s":"㉓八田町灌漑","d":"2016-01-16T12:00Z","v":7.1},{"s":"㉓八田町灌漑","d":"2016-01-17","v":4.62},{"s":"㉓八田町灌漑","d":"2016-01-17T12:00Z","v":7.05},{"s":"㉓八田町灌漑","d":"2016-01-18","v":4.6},{"s":"㉓八田町灌漑","d":"2016-01-18T12:00Z","v":7.1},{"s":"㉓八田町灌漑","d":"2016-01-19","v":4.55},{"s":"㉓八田町灌漑","d":"2016-01-19T12:00Z","v":7.45},{"s":"㉓八田町灌漑","d":"2016-01-20","v":4.58},{"s":"㉓八田町灌漑","d":"2016-01-20T12:00Z","v":7.5},{"s":"㉓八田町灌漑","d":"2016-01-21","v":4.65},{"s":"㉓八田町灌漑","d":"2016-01-21T12:00Z","v":7.45},{"s":"㉓八田町灌漑","d":"2016-01-22","v":4.75},{"s":"㉓八田町灌漑","d":"2016-01-22T12:00Z","v":7.5},{"s":"㉓八田町灌漑","d":"2016-01-23","v":4.85},{"s":"㉓八田町灌漑","d":"2016-01-23T12:00Z","v":7.55},{"s":"㉓八田町灌漑","d":"2016-01-24","v":4.95},{"s":"㉓八田町灌漑","d":"2016-01-24T12:00Z","v":7.6},{"s":"㉓八田町灌漑","d":"2016-01-25","v":5.1},{"s":"㉓八田町灌漑","d":"2016-01-25T12:00Z","v":7.95},{"s":"㉓八田町灌漑","d":"2016-01-26","v":5.6},{"s":"㉓八田町灌漑","d":"2016-01-26T12:00Z","v":8.2},{"s":"㉓八田町灌漑","d":"2016-01-27","v":5.95},{"s":"㉓八田町灌漑","d":"2016-01-27T12:00Z","v":8.3},{"s":"㉓八田町灌漑","d":"2016-01-28","v":5.8},{"s":"㉓八田町灌漑","d":"2016-01-28T12:00Z","v":8.25},{"s":"㉓八田町灌漑","d":"2016-01-29","v":5.6},{"s":"㉓八田町灌漑","d":"2016-01-29T12:00Z","v":8.1},{"s":"㉓八田町灌漑","d":"2016-01-30","v":5.4},{"s":"㉓八田町灌漑","d":"2016-01-30T12:00Z","v":7.9},{"s":"㉓八田町灌漑","d":"2016-01-31","v":5.25},{"s":"㉓八田町灌漑","d":"2016-01-31T12:00Z","v":7.75},{"s":"㉓八田町灌漑","d":"2016-02-01","v":5.15},{"s":"㉓八田町灌漑","d":"2016-02-01T12:00Z","v":7.7},{"s":"㉓八田町灌漑","d":"2016-02-02","v":5.1},{"s":"㉓八田町灌漑","d":"2016-02-02T12:00Z","v":7.5},{"s":"㉓八田町灌漑","d":"2016-02-03","v":5.05},{"s":"㉓八田町灌漑","d":"2016-02-03T12:00Z","v":7.4},{"s":"㉓八田町灌漑","d":"2016-02-04","v":5.02},{"s":"㉓八田町灌漑","d":"2016-02-04T12:00Z","v":7.3},{"s":"㉓八田町灌漑","d":"2016-02-05","v":5.0},{"s":"㉓八田町灌漑","d":"2016-02-05T12:00Z","v":7.25},{"s":"㉓八田町灌漑","d":"2016-02-06","v":4.98},{"s":"㉓八田町灌漑","d":"2016-02-06T12:00Z","v":7.2},{"s":"㉓八田町灌漑","d":"2016-02-07","v":4.95},{"s":"㉓八田町灌漑","d":"2016-02-07T12:00Z","v":7.25},{"s":"㉓八田町灌漑","d":"2016-02-08","v":4.95},{"s":"㉓八田町灌漑","d":"2016-02-08T12:00Z","v":7.2},{"s":"㉓八田町灌漑","d":"2016-02-09","v":4.92},{"s":"㉓八田町灌漑","d":"2016-02-09T12:00Z","v":7.15},{"s":"㉓八田町灌漑","d":"2016-02-10","v":4.9},{"s":"㉓八田町灌漑","d":"2016-02-10T12:00Z","v":7.2},{"s":"㉓八田町灌漑","d":"2016-02-11","v":4.88},{"s":"㉓八田町灌漑","d":"2016-02-11T12:00Z","v":7.15},{"s":"㉓八田町灌漑","d":"2016-02-12","v":4.85},{"s":"㉓八田町灌漑","d":"2016-02-12T12:00Z","v":7.2},{"s":"㉓八田町灌漑","d":"2016-02-13","v":4.82},{"s":"㉓八田町灌漑","d":"2016-02-13T12:00Z","v":7.15},{"s":"㉓八田町灌漑","d":"2016-02-14","v":4.8},{"s":"㉓八田町灌漑","d":"2016-02-14T12:00Z","v":7.2},{"s":"㉓八田町灌漑","d":"2016-02-15","v":4.78},{"s":"㉓八田町灌漑","d":"2016-02-15T12:00Z","v":7.6},{"s":"㉓八田町灌漑","d":"2016-02-16","v":5.0},{"s":"㉓八田町灌漑","d":"2016-02-16T12:00Z","v":8.0},{"s":"㉓八田町灌漑","d":"2016-02-17","v":5.5},{"s":"㉓八田町灌漑","d":"2016-02-17T12:00Z","v":8.25},{"s":"㉓八田町灌漑","d":"2016-02-18","v":5.8},{"s":"㉓八田町灌漑","d":"2016-02-18T12:00Z","v":8.3},{"s":"㉓八田町灌漑","d":"2016-02-19","v":5.6},{"s":"㉓八田町灌漑","d":"2016-02-19T12:00Z","v":8.2},{"s":"㉓八田町灌漑","d":"2016-02-20","v":5.4},{"s":"㉓八田町灌漑","d":"2016-02-20T12:00Z","v":8.0},{"s":"㉓八田町灌漑","d":"2016-02-21","v":5.25},{"s":"㉓八田町灌漑","d":"2016-02-21T12:00Z","v":7.6},{"s":"㉓八田町灌漑","d":"2016-02-22","v":5.15},{"s":"㉓八田町灌漑","d":"2016-02-22T12:00Z","v":7.5},{"s":"㉓八田町灌漑","d":"2016-02-23","v":5.05},{"s":"㉓八田町灌漑","d":"2016-02-23T12:00Z","v":7.45},{"s":"㉓八田町灌漑","d":"2016-02-24","v":5.0},{"s":"㉓八田町灌漑","d":"2016-02-24T12:00Z","v":7.9},{"s":"㉓八田町灌漑","d":"2016-02-25","v":4.98},{"s":"㉓八田町灌漑","d":"2016-02-25T12:00Z","v":7.95},{"s":"㉓八田町灌漑","d":"2016-02-26","v":4.95},{"s":"㉓八田町灌漑","d":"2016-02-26T12:00Z","v":7.8},{"s":"㉓八田町灌漑","d":"2016-02-27","v":4.92},{"s":"㉓八田町灌漑","d":"2016-02-27T12:00Z","v":7.55},{"s":"㉓八田町灌漑","d":"2016-02-28","v":4.9},{"s":"㉓八田町灌漑","d":"2016-02-28T12:00Z","v":7.5},{"s":"㉓八田町灌漑","d":"2016-02-29","v":4.88},{"s":"㉓八田町灌漑","d":"2016-02-29T12:00Z","v":7.6},{"s":"㉓八田町灌漑","d":"2016-03-01","v":5.0},{"s":"㉓八田町灌漑","d":"2016-03-01T12:00Z","v":7.9},{"s":"㉓八田町灌漑","d":"2016-03-02","v":5.1},{"s":"㉓八田町灌漑","d":"2016-03-02T12:00Z","v":7.45},{"s":"㉓八田町灌漑","d":"2016-03-03","v":5.05},{"s":"㉓八田町灌漑","d":"2016-03-03T12:00Z","v":7.35},{"s":"㉓八田町灌漑","d":"2016-03-04","v":5.0},{"s":"㉓八田町灌漑","d":"2016-03-04T12:00Z","v":7.3},{"s":"㉓八田町灌漑","d":"2016-03-05","v":4.98},{"s":"㉓八田町灌漑","d":"2016-03-05T12:00Z","v":7.35},{"s":"㉓八田町灌漑","d":"2016-03-06","v":4.95},{"s":"㉓八田町灌漑","d":"2016-03-06T12:00Z","v":7.3},{"s":"㉓八田町灌漑","d":"2016-03-07","v":4.95},{"s":"㉓八田町灌漑","d":"2016-03-07T12:00Z","v":7.25},{"s":"㉓八田町灌漑","d":"2016-03-08","v":4.92},{"s":"㉓八田町灌漑","d":"2016-03-08T12:00Z","v":7.3},{"s":"㉓八田町灌漑","d":"2016-03-09","v":4.95},{"s":"㉓八田町灌漑","d":"2016-03-09T12:00Z","v":7.35},{"s":"㉓八田町灌漑","d":"2016-03-10","v":4.92},{"s":"㉓八田町灌漑","d":"2016-03-10T12:00Z","v":7.3},{"s":"㉓八田町灌漑","d":"2016-03-11","v":4.9},{"s":"㉓八田町灌漑","d":"2016-03-11T12:00Z","v":7.25},{"s":"㉓八田町灌漑","d":"2016-03-12","v":4.92},{"s":"㉓八田町灌漑","d":"2016-03-12T12:00Z","v":7.3},{"s":"㉓八田町灌漑","d":"2016-03-13","v":4.9},{"s":"㉓八田町灌漑","d":"2016-03-13T12:00Z","v":7.35},{"s":"㉓八田町灌漑","d":"2016-03-14","v":4.88},{"s":"㉓八田町灌漑","d":"2016-03-14T12:00Z","v":7.3},{"s":"㉓八田町灌漑","d":"2016-03-15","v":4.92},{"s":"㉓八田町灌漑","d":"2016-03-15T12:00Z","v":7.25},{"s":"㉓八田町灌漑","d":"2016-03-16","v":4.95},{"s":"㉓八田町灌漑","d":"2016-03-16T12:00Z","v":7.3},{"s":"㉓八田町灌漑","d":"2016-03-17","v":4.92},{"s":"㉓八田町灌漑","d":"2016-03-17T12:00Z","v":7.35},{"s":"㉓八田町灌漑","d":"2016-03-18","v":4.9},{"s":"㉓八田町灌漑","d":"2016-03-18T12:00Z","v":7.3},{"s":"㉓八田町灌漑","d":"2016-03-19","v":4.88},{"s":"㉓八田町灌漑","d":"2016-03-19T12:00Z","v":7.35},{"s":"㉓八田町灌漑","d":"2016-03-20","v":4.9},{"s":"㉓八田町灌漑","d":"2016-03-20T12:00Z","v":7.3},{"s":"㉓八田町灌漑","d":"2016-03-21","v":4.88},{"s":"㉓八田町灌漑","d":"2016-03-21T12:00Z","v":7.4},{"s":"㉓八田町灌漑","d":"2016-03-22","v":4.9},{"s":"㉓八田町灌漑","d":"2016-03-22T12:00Z","v":7.35},{"s":"㉓八田町灌漑","d":"2016-03-23","v":4.92},{"s":"㉓八田町灌漑","d":"2016-03-23T12:00Z","v":7.3},{"s":"㉓八田町灌漑","d":"2016-03-24","v":4.95},{"s":"㉓八田町灌漑","d":"2016-03-24T12:00Z","v":7.35},{"s":"㉓八田町灌漑","d":"2016-03-25","v":4.92},{"s":"㉓八田町灌漑","d":"2016-03-25T12:00Z","v":7.4},{"s":"㉓八田町灌漑","d":"2016-03-26","v":4.9},{"s":"㉓八田町灌漑","d":"2016-03-26T12:00Z","v":7.35},{"s":"㉓八田町灌漑","d":"2016-03-27","v":4.92},{"s":"㉓八田町灌漑","d":"2016-03-27T12:00Z","v":7.4},{"s":"㉓八田町灌漑","d":"2016-03-28","v":4.9},{"s":"㉓八田町灌漑","d":"2016-03-28T12:00Z","v":7.45},{"s":"㉓八田町灌漑","d":"2016-03-29","v":4.95},{"s":"㉓八田町灌漑","d":"2016-03-29T12:00Z","v":7.4},{"s":"㉓八田町灌漑","d":"2016-03-30","v":5.0},{"s":"㉓八田町灌漑","d":"2016-03-30T12:00Z","v":7.45},{"s":"㉓八田町灌漑","d":"2016-03-31","v":5.05},{"s":"㉓八田町灌漑","d":"2016-03-31T12:00Z","v":7.4},{"s":"㉓八田町灌漑","d":"2016-04-01","v":5.08},{"s":"㉓八田町灌漑","d":"2016-04-01T12:00Z","v":7.45},{"s":"㉓八田町灌漑","d":"2016-04-02","v":5.12},{"s":"㉓八田町灌漑","d":"2016-04-02T12:00Z","v":7.5},
{"s":"⑪","d":"2015-07-07","v":4.3},{"s":"⑪","d":"2015-07-10","v":4.35},{"s":"⑪","d":"2015-07-13","v":4.25},{"s":"⑪","d":"2015-07-16","v":4.32},{"s":"⑪","d":"2015-07-20","v":4.32},{"s":"⑪","d":"2015-07-23","v":4.4},{"s":"⑪","d":"2015-07-27","v":4.42},{"s":"⑪","d":"2015-07-31","v":4.35},{"s":"⑪","d":"2015-08-03","v":4.32},{"s":"⑪","d":"2015-08-06","v":4.38},{"s":"⑪","d":"2015-08-10","v":4.45},{"s":"⑪","d":"2015-08-12","v":4.38},{"s":"⑪","d":"2015-08-17","v":4.28},{"s":"⑪","d":"2015-08-21","v":4.32},{"s":"⑪","d":"2015-08-24","v":4.4},{"s":"⑪","d":"2015-08-26","v":4.38},{"s":"⑪","d":"2015-08-28","v":4.52},{"s":"⑪","d":"2015-09-01","v":4.55},{"s":"⑪","d":"2015-09-04","v":4.7},{"s":"⑪","d":"2015-09-07","v":4.5},{"s":"⑪","d":"2015-09-11","v":4.48},{"s":"⑪","d":"2015-09-14","v":4.32},{"s":"⑪","d":"2015-09-17","v":4.42},{"s":"⑪","d":"2015-09-21","v":4.45},{"s":"⑪","d":"2015-09-25","v":4.4},{"s":"⑪","d":"2015-09-28","v":4.45},{"s":"⑪","d":"2015-10-02","v":4.52},{"s":"⑪","d":"2015-10-05","v":4.5},{"s":"⑪","d":"2015-10-08","v":4.6},{"s":"⑪","d":"2015-10-12","v":4.62},{"s":"⑪","d":"2015-10-15","v":4.72},{"s":"⑪","d":"2015-10-19","v":4.75},{"s":"⑪","d":"2015-10-22","v":4.82},{"s":"⑪","d":"2015-10-26","v":4.85},{"s":"⑪","d":"2015-10-29","v":4.92},{"s":"⑪","d":"2015-11-02","v":4.98},{"s":"⑪","d":"2015-11-05","v":5.02},{"s":"⑪","d":"2015-11-09","v":5.05},{"s":"⑪","d":"2015-11-12","v":5.15},{"s":"⑪","d":"2015-11-16","v":5.2},{"s":"⑪","d":"2015-11-19","v":5.22},{"s":"⑪","d":"2015-11-23","v":5.15},{"s":"⑪","d":"2015-11-26","v":5.12},{"s":"⑪","d":"2015-11-30","v":5.05},{"s":"⑪","d":"2015-12-03","v":4.95},{"s":"⑪","d":"2015-12-07","v":4.82},{"s":"⑪","d":"2015-12-10","v":4.75},{"s":"⑪","d":"2015-12-14","v":4.65},{"s":"⑪","d":"2015-12-17","v":4.58},{"s":"⑪","d":"2015-12-21","v":4.48},{"s":"⑪","d":"2015-12-24","v":4.4},{"s":"⑪","d":"2015-12-28","v":4.3},{"s":"⑪","d":"2016-01-01","v":4.22},{"s":"⑪","d":"2016-01-04","v":4.12},{"s":"⑪","d":"2016-01-06","v":4.22},{"s":"⑪","d":"2016-01-09","v":4.25},{"s":"⑪","d":"2016-01-12","v":4.22},{"s":"⑪","d":"2016-01-15","v":4.22},{"s":"⑪","d":"2016-01-18","v":4.22},{"s":"⑪","d":"2016-01-20","v":4.3},{"s":"⑪","d":"2016-01-22","v":4.4},{"s":"⑪","d":"2016-01-25","v":4.55},{"s":"⑪","d":"2016-01-26","v":4.85},{"s":"⑪","d":"2016-01-27","v":5.1},{"s":"⑪","d":"2016-01-29","v":4.98},{"s":"⑪","d":"2016-02-01","v":4.88},{"s":"⑪","d":"2016-02-04","v":4.8},{"s":"⑪","d":"2016-02-08","v":4.68},{"s":"⑪","d":"2016-02-11","v":4.6},{"s":"⑪","d":"2016-02-14","v":4.5},{"s":"⑪","d":"2016-02-15","v":4.45},{"s":"⑪","d":"2016-02-17","v":4.75},{"s":"⑪","d":"2016-02-19","v":5.1},{"s":"⑪","d":"2016-02-20","v":5.05},{"s":"⑪","d":"2016-02-22","v":4.85},{"s":"⑪","d":"2016-02-25","v":4.72},{"s":"⑪","d":"2016-02-27","v":4.65},{"s":"⑪","d":"2016-02-29","v":4.55},{"s":"⑪","d":"2016-03-02","v":4.65},{"s":"⑪","d":"2016-03-05","v":4.62},{"s":"⑪","d":"2016-03-08","v":4.55},{"s":"⑪","d":"2016-03-11","v":4.58},{"s":"⑪","d":"2016-03-14","v":4.52},{"s":"⑪","d":"2016-03-17","v":4.6},{"s":"⑪","d":"2016-03-21","v":4.58},{"s":"⑪","d":"2016-03-24","v":4.62},{"s":"⑪","d":"2016-03-28","v":4.62},{"s":"⑪","d":"2016-03-31","v":4.75},{"s":"⑪","d":"2016-04-02","v":4.82},
{"s":"⑬","d":"2015-07-06","v":2.82},{"s":"⑬","d":"2015-07-09","v":2.92},{"s":"⑬","d":"2015-07-12","v":2.95},{"s":"⑬","d":"2015-07-13","v":2.8},{"s":"⑬","d":"2015-07-16","v":2.88},{"s":"⑬","d":"2015-07-20","v":2.86},{"s":"⑬","d":"2015-07-23","v":2.98},{"s":"⑬","d":"2015-07-27","v":2.95},{"s":"⑬","d":"2015-07-31","v":2.85},{"s":"⑬","d":"2015-08-03","v":2.92},{"s":"⑬","d":"2015-08-06","v":2.97},{"s":"⑬","d":"2015-08-10","v":2.98},{"s":"⑬","d":"2015-08-12","v":2.9},{"s":"⑬","d":"2015-08-17","v":2.8},{"s":"⑬","d":"2015-08-21","v":2.85},{"s":"⑬","d":"2015-08-24","v":2.95},{"s":"⑬","d":"2015-08-26","v":2.9},{"s":"⑬","d":"2015-08-28","v":3.05},{"s":"⑬","d":"2015-09-01","v":3.02},{"s":"⑬","d":"2015-09-04","v":3.15},{"s":"⑬","d":"2015-09-07","v":3.0},{"s":"⑬","d":"2015-09-11","v":3.05},{"s":"⑬","d":"2015-09-14","v":2.85},{"s":"⑬","d":"2015-09-17","v":3.0},{"s":"⑬","d":"2015-09-21","v":3.0},{"s":"⑬","d":"2015-09-25","v":2.92},{"s":"⑬","d":"2015-09-28","v":2.95},{"s":"⑬","d":"2015-10-02","v":3.02},{"s":"⑬","d":"2015-10-05","v":2.98},{"s":"⑬","d":"2015-10-08","v":3.1},{"s":"⑬","d":"2015-10-12","v":3.1},{"s":"⑬","d":"2015-10-15","v":3.2},{"s":"⑬","d":"2015-10-19","v":3.22},{"s":"⑬","d":"2015-10-22","v":3.3},{"s":"⑬","d":"2015-10-26","v":3.3},{"s":"⑬","d":"2015-10-29","v":3.4},{"s":"⑬","d":"2015-11-02","v":3.45},{"s":"⑬","d":"2015-11-05","v":3.5},{"s":"⑬","d":"2015-11-09","v":3.45},{"s":"⑬","d":"2015-11-12","v":3.6},{"s":"⑬","d":"2015-11-16","v":3.62},{"s":"⑬","d":"2015-11-19","v":3.65},{"s":"⑬","d":"2015-11-23","v":3.62},{"s":"⑬","d":"2015-11-26","v":3.6},{"s":"⑬","d":"2015-11-30","v":3.55},{"s":"⑬","d":"2015-12-03","v":3.48},{"s":"⑬","d":"2015-12-07","v":3.35},{"s":"⑬","d":"2015-12-10","v":3.3},{"s":"⑬","d":"2015-12-14","v":3.25},{"s":"⑬","d":"2015-12-17","v":3.15},{"s":"⑬","d":"2015-12-21","v":3.05},{"s":"⑬","d":"2015-12-24","v":3.0},{"s":"⑬","d":"2015-12-28","v":2.92},{"s":"⑬","d":"2016-01-01","v":2.85},{"s":"⑬","d":"2016-01-04","v":2.75},{"s":"⑬","d":"2016-01-06","v":2.85},{"s":"⑬","d":"2016-01-09","v":2.88},{"s":"⑬","d":"2016-01-12","v":2.8},{"s":"⑬","d":"2016-01-15","v":2.8},{"s":"⑬","d":"2016-01-18","v":2.75},{"s":"⑬","d":"2016-01-20","v":2.85},{"s":"⑬","d":"2016-01-22","v":2.95},{"s":"⑬","d":"2016-01-25","v":3.05},{"s":"⑬","d":"2016-01-26","v":3.3},{"s":"⑬","d":"2016-01-27","v":3.5},{"s":"⑬","d":"2016-01-29","v":3.38},{"s":"⑬","d":"2016-02-01","v":3.28},{"s":"⑬","d":"2016-02-04","v":3.2},{"s":"⑬","d":"2016-02-08","v":3.12},{"s":"⑬","d":"2016-02-11","v":3.05},{"s":"⑬","d":"2016-02-14","v":2.98},{"s":"⑬","d":"2016-02-15","v":2.88},{"s":"⑬","d":"2016-02-17","v":3.15},{"s":"⑬","d":"2016-02-19","v":3.42},{"s":"⑬","d":"2016-02-20","v":3.4},{"s":"⑬","d":"2016-02-22","v":3.25},{"s":"⑬","d":"2016-02-25","v":3.12},{"s":"⑬","d":"2016-02-27","v":3.1},{"s":"⑬","d":"2016-02-29","v":3.02},{"s":"⑬","d":"2016-03-02","v":3.12},{"s":"⑬","d":"2016-03-05","v":3.1},{"s":"⑬","d":"2016-03-08","v":3.0},{"s":"⑬","d":"2016-03-11","v":3.05},{"s":"⑬","d":"2016-03-14","v":3.0},{"s":"⑬","d":"2016-03-17","v":3.08},{"s":"⑬","d":"2016-03-21","v":3.02},{"s":"⑬","d":"2016-03-24","v":3.08},{"s":"⑬","d":"2016-03-28","v":3.08},{"s":"⑬","d":"2016-03-31","v":3.2},{"s":"⑬","d":"2016-04-02","v":3.3},
{"s":"⑭","d":"2015-07-07","v":2.34},{"s":"⑭","d":"2015-07-10","v":2.38},{"s":"⑭","d":"2015-07-12","v":2.4},{"s":"⑭","d":"2015-07-13","v":2.08},{"s":"⑭","d":"2015-07-15","v":2.18},{"s":"⑭","d":"2015-07-18","v":2.3},{"s":"⑭","d":"2015-07-20","v":2.15},{"s":"⑭","d":"2015-07-22","v":2.2},{"s":"⑭","d":"2015-07-23","v":2.42},{"s":"⑭","d":"2015-07-26","v":2.4},{"s":"⑭","d":"2015-07-29","v":2.35},{"s":"⑭","d":"2015-07-31","v":2.15},{"s":"⑭","d":"2015-08-02","v":2.3},{"s":"⑭","d":"2015-08-04","v":2.4},{"s":"⑭","d":"2015-08-07","v":2.38},{"s":"⑭","d":"2015-08-09","v":2.15},{"s":"⑭","d":"2015-08-11","v":2.38},{"s":"⑭","d":"2015-08-14","v":2.4},{"s":"⑭","d":"2015-08-16","v":2.2},{"s":"⑭","d":"2015-08-17","v":2.1},{"s":"⑭","d":"2015-08-20","v":2.12},{"s":"⑭","d":"2015-08-22","v":2.15},{"s":"⑭","d":"2015-08-24","v":2.4},{"s":"⑭","d":"2015-08-26","v":2.35},{"s":"⑭","d":"2015-08-27","v":2.15},{"s":"⑭","d":"2015-08-28","v":2.5},{"s":"⑭","d":"2015-08-31","v":2.55},{"s":"⑭","d":"2015-09-01","v":2.3},{"s":"⑭","d":"2015-09-02","v":2.45},{"s":"⑭","d":"2015-09-05","v":2.6},{"s":"⑭","d":"2015-09-07","v":2.4},{"s":"⑭","d":"2015-09-08","v":2.35},{"s":"⑭","d":"2015-09-11","v":2.42},{"s":"⑭","d":"2015-09-13","v":2.3},{"s":"⑭","d":"2015-09-14","v":2.1},{"s":"⑭","d":"2015-09-16","v":2.45},{"s":"⑭","d":"2015-09-19","v":2.45},{"s":"⑭","d":"2015-09-22","v":2.4},{"s":"⑭","d":"2015-09-24","v":2.2},{"s":"⑭","d":"2015-09-26","v":2.5},{"s":"⑭","d":"2015-09-28","v":2.25},{"s":"⑭","d":"2015-09-30","v":2.52},{"s":"⑭","d":"2015-10-03","v":2.5},{"s":"⑭","d":"2015-10-05","v":2.3},{"s":"⑭","d":"2015-10-08","v":2.6},{"s":"⑭","d":"2015-10-11","v":2.55},{"s":"⑭","d":"2015-10-12","v":2.38},{"s":"⑭","d":"2015-10-14","v":2.6},{"s":"⑭","d":"2015-10-17","v":2.65},{"s":"⑭","d":"2015-10-19","v":2.5},{"s":"⑭","d":"2015-10-22","v":2.72},{"s":"⑭","d":"2015-10-25","v":2.7},{"s":"⑭","d":"2015-10-26","v":2.5},{"s":"⑭","d":"2015-10-28","v":2.78},{"s":"⑭","d":"2015-10-31","v":2.8},{"s":"⑭","d":"2015-11-02","v":2.55},{"s":"⑭","d":"2015-11-04","v":2.9},{"s":"⑭","d":"2015-11-07","v":2.95},{"s":"⑭","d":"2015-11-09","v":2.68},{"s":"⑭","d":"2015-11-11","v":3.0},{"s":"⑭","d":"2015-11-14","v":3.05},{"s":"⑭","d":"2015-11-16","v":2.8},{"s":"⑭","d":"2015-11-18","v":3.02},{"s":"⑭","d":"2015-11-21","v":3.05},{"s":"⑭","d":"2015-11-23","v":2.85},{"s":"⑭","d":"2015-11-25","v":3.0},{"s":"⑭","d":"2015-11-27","v":2.85},{"s":"⑭","d":"2015-11-29","v":2.75},{"s":"⑭","d":"2015-12-01","v":2.8},{"s":"⑭","d":"2015-12-04","v":2.7},{"s":"⑭","d":"2015-12-06","v":2.62},{"s":"⑭","d":"2015-12-07","v":2.5},{"s":"⑭","d":"2015-12-09","v":2.75},{"s":"⑭","d":"2015-12-12","v":2.65},{"s":"⑭","d":"2015-12-14","v":2.4},{"s":"⑭","d":"2015-12-16","v":2.6},{"s":"⑭","d":"2015-12-19","v":2.55},{"s":"⑭","d":"2015-12-21","v":2.3},{"s":"⑭","d":"2015-12-23","v":2.5},{"s":"⑭","d":"2015-12-26","v":2.42},{"s":"⑭","d":"2015-12-28","v":2.22},{"s":"⑭","d":"2015-12-31","v":2.18},{"s":"⑭","d":"2016-01-02","v":2.12},{"s":"⑭","d":"2016-01-04","v":1.98},{"s":"⑭","d":"2016-01-06","v":2.25},{"s":"⑭","d":"2016-01-09","v":2.28},{"s":"⑭","d":"2016-01-10","v":2.28},{"s":"⑭","d":"2016-01-10T08:00Z","v":2.85},{"s":"⑭","d":"2016-01-10T16:00Z","v":2.02},{"s":"⑭","d":"2016-01-12","v":2.1},{"s":"⑭","d":"2016-01-14","v":2.32},{"s":"⑭","d":"2016-01-16","v":2.3},{"s":"⑭","d":"2016-01-18","v":2.02},{"s":"⑭","d":"2016-01-20","v":2.3},{"s":"⑭","d":"2016-01-22","v":2.38},{"s":"⑭","d":"2016-01-24","v":2.55},{"s":"⑭","d":"2016-01-25","v":2.45},{"s":"⑭","d":"2016-01-26","v":2.85},{"s":"⑭","d":"2016-01-27","v":3.02},{"s":"⑭","d":"2016-01-29","v":2.85},{"s":"⑭","d":"2016-02-01","v":2.55},{"s":"⑭","d":"2016-02-03","v":2.75},{"s":"⑭","d":"2016-02-06","v":2.72},{"s":"⑭","d":"2016-02-08","v":2.52},{"s":"⑭","d":"2016-02-10","v":2.72},{"s":"⑭","d":"2016-02-13","v":2.65},{"s":"⑭","d":"2016-02-15","v":2.15},{"s":"⑭","d":"2016-02-17","v":2.5},{"s":"⑭","d":"2016-02-19","v":2.9},{"s":"⑭","d":"2016-02-20","v":3.05},{"s":"⑭","d":"2016-02-22","v":2.85},{"s":"⑭","d":"2016-02-24","v":2.48},{"s":"⑭","d":"2016-02-26","v":2.6},{"s":"⑭","d":"2016-02-27","v":2.7},{"s":"⑭","d":"2016-02-29","v":2.35},{"s":"⑭","d":"2016-03-02","v":2.6},{"s":"⑭","d":"2016-03-05","v":2.62},{"s":"⑭","d":"2016-03-07","v":2.58},{"s":"⑭","d":"2016-03-08","v":2.38},{"s":"⑭","d":"2016-03-10","v":2.62},{"s":"⑭","d":"2016-03-12","v":2.65},{"s":"⑭","d":"2016-03-14","v":2.3},{"s":"⑭","d":"2016-03-16","v":2.6},{"s":"⑭","d":"2016-03-19","v":2.62},{"s":"⑭","d":"2016-03-21","v":2.3},{"s":"⑭","d":"2016-03-23","v":2.62},{"s":"⑭","d":"2016-03-26","v":2.65},{"s":"⑭","d":"2016-03-28","v":2.38},{"s":"⑭","d":"2016-03-30","v":2.7},{"s":"⑭","d":"2016-04-02","v":2.75},
{"s":"⑯","d":"2015-08-18","v":3.38},{"s":"⑯","d":"2015-08-21","v":3.42},{"s":"⑯","d":"2015-08-24","v":3.4},{"s":"⑯","d":"2015-08-26","v":3.45},{"s":"⑯","d":"2015-08-28","v":3.62},{"s":"⑯","d":"2015-09-01","v":3.62},{"s":"⑯","d":"2015-09-04","v":3.78},{"s":"⑯","d":"2015-09-07","v":3.56},{"s":"⑯","d":"2015-09-11","v":3.55},{"s":"⑯","d":"2015-09-14","v":3.38},{"s":"⑯","d":"2015-09-17","v":3.5},{"s":"⑯","d":"2015-09-21","v":3.52},{"s":"⑯","d":"2015-09-25","v":3.48},{"s":"⑯","d":"2015-09-28","v":3.45},{"s":"⑯","d":"2015-10-02","v":3.58},{"s":"⑯","d":"2015-10-05","v":3.55},{"s":"⑯","d":"2015-10-08","v":3.68},{"s":"⑯","d":"2015-10-12","v":3.68},{"s":"⑯","d":"2015-10-15","v":3.78},{"s":"⑯","d":"2015-10-19","v":3.8},{"s":"⑯","d":"2015-10-22","v":3.88},{"s":"⑯","d":"2015-10-26","v":3.85},{"s":"⑯","d":"2015-10-29","v":3.95},{"s":"⑯","d":"2015-11-02","v":4.0},{"s":"⑯","d":"2015-11-05","v":4.05},{"s":"⑯","d":"2015-11-09","v":4.05},{"s":"⑯","d":"2015-11-12","v":4.15},{"s":"⑯","d":"2015-11-16","v":4.2},{"s":"⑯","d":"2015-11-19","v":4.22},{"s":"⑯","d":"2015-11-23","v":4.18},{"s":"⑯","d":"2015-11-26","v":4.15},{"s":"⑯","d":"2015-11-30","v":4.1},{"s":"⑯","d":"2015-12-03","v":4.02},{"s":"⑯","d":"2015-12-07","v":3.9},{"s":"⑯","d":"2015-12-10","v":3.85},{"s":"⑯","d":"2015-12-14","v":3.78},{"s":"⑯","d":"2015-12-17","v":3.7},{"s":"⑯","d":"2015-12-21","v":3.6},{"s":"⑯","d":"2015-12-24","v":3.52},{"s":"⑯","d":"2015-12-28","v":3.42},{"s":"⑯","d":"2016-01-01","v":3.32},{"s":"⑯","d":"2016-01-04","v":3.2},{"s":"⑯","d":"2016-01-06","v":3.32},{"s":"⑯","d":"2016-01-09","v":3.35},{"s":"⑯","d":"2016-01-12","v":3.28},{"s":"⑯","d":"2016-01-15","v":3.25},{"s":"⑯","d":"2016-01-18","v":3.22},{"s":"⑯","d":"2016-01-20","v":3.35},{"s":"⑯","d":"2016-01-22","v":3.48},{"s":"⑯","d":"2016-01-25","v":3.7},{"s":"⑯","d":"2016-01-26","v":3.95},{"s":"⑯","d":"2016-01-27","v":4.28},{"s":"⑯","d":"2016-01-29","v":4.15},{"s":"⑯","d":"2016-02-01","v":4.05},{"s":"⑯","d":"2016-02-04","v":3.95},{"s":"⑯","d":"2016-02-08","v":3.8},{"s":"⑯","d":"2016-02-11","v":3.7},{"s":"⑯","d":"2016-02-14","v":3.58},{"s":"⑯","d":"2016-02-15","v":3.48},{"s":"⑯","d":"2016-02-17","v":3.85},{"s":"⑯","d":"2016-02-19","v":4.28},{"s":"⑯","d":"2016-02-20","v":4.25},{"s":"⑯","d":"2016-02-22","v":3.95},{"s":"⑯","d":"2016-02-25","v":3.78},{"s":"⑯","d":"2016-02-27","v":3.7},{"s":"⑯","d":"2016-02-29","v":3.62},{"s":"⑯","d":"2016-03-02","v":3.72},{"s":"⑯","d":"2016-03-05","v":3.7},{"s":"⑯","d":"2016-03-08","v":3.62},{"s":"⑯","d":"2016-03-11","v":3.65},{"s":"⑯","d":"2016-03-14","v":3.55},{"s":"⑯","d":"2016-03-17","v":3.62},{"s":"⑯","d":"2016-03-21","v":3.6},{"s":"⑯","d":"2016-03-24","v":3.65},{"s":"⑯","d":"2016-03-28","v":3.65},{"s":"⑯","d":"2016-03-31","v":3.8},{"s":"⑯","d":"2016-04-02","v":3.86},
{"s":"⑫","d":"2015-07-06","v":3.52},{"s":"⑫","d":"2015-07-09","v":3.6},{"s":"⑫","d":"2015-07-12","v":3.62},{"s":"⑫","d":"2015-07-13","v":3.5},{"s":"⑫","d":"2015-07-16","v":3.6},{"s":"⑫","d":"2015-07-20","v":3.58},{"s":"⑫","d":"2015-07-23","v":3.7},{"s":"⑫","d":"2015-07-27","v":3.68},{"s":"⑫","d":"2015-07-31","v":3.55},{"s":"⑫","d":"2015-08-03","v":3.62},{"s":"⑫","d":"2015-08-06","v":3.68},{"s":"⑫","d":"2015-08-10","v":3.72},{"s":"⑫","d":"2015-08-12","v":3.62},{"s":"⑫","d":"2015-08-17","v":3.55},{"s":"⑫","d":"2015-08-21","v":3.58},{"s":"⑫","d":"2015-08-24","v":3.66},{"s":"⑫","d":"2015-08-26","v":3.75},{"s":"⑫","d":"2015-08-28","v":3.82},{"s":"⑫","d":"2015-09-01","v":3.85},{"s":"⑫","d":"2015-09-04","v":4.02},{"s":"⑫","d":"2015-09-07","v":3.82},{"s":"⑫","d":"2015-09-11","v":3.78},{"s":"⑫","d":"2015-09-14","v":3.58},{"s":"⑫","d":"2015-09-17","v":3.7},{"s":"⑫","d":"2015-09-21","v":3.72},{"s":"⑫","d":"2015-09-25","v":3.68},{"s":"⑫","d":"2015-09-28","v":3.62},{"s":"⑫","d":"2015-10-02","v":3.75},{"s":"⑫","d":"2015-10-05","v":3.72},{"s":"⑫","d":"2015-10-08","v":3.85},{"s":"⑫","d":"2015-10-12","v":3.88},{"s":"⑫","d":"2015-10-15","v":3.98},{"s":"⑫","d":"2015-10-19","v":4.0},{"s":"⑫","d":"2015-10-22","v":4.08},{"s":"⑫","d":"2015-10-26","v":4.05},{"s":"⑫","d":"2015-10-29","v":4.15},{"s":"⑫","d":"2015-11-02","v":4.22},{"s":"⑫","d":"2015-11-05","v":4.25},{"s":"⑫","d":"2015-11-09","v":4.25},{"s":"⑫","d":"2015-11-12","v":4.38},{"s":"⑫","d":"2015-11-16","v":4.45},{"s":"⑫","d":"2015-11-19","v":4.45},{"s":"⑫","d":"2015-11-23","v":4.38},{"s":"⑫","d":"2015-11-26","v":4.35},{"s":"⑫","d":"2015-11-30","v":4.3},{"s":"⑫","d":"2015-12-03","v":4.22},{"s":"⑫","d":"2015-12-07","v":4.08},{"s":"⑫","d":"2015-12-10","v":4.02},{"s":"⑫","d":"2015-12-14","v":3.95},{"s":"⑫","d":"2015-12-17","v":3.88},{"s":"⑫","d":"2015-12-21","v":3.75},{"s":"⑫","d":"2015-12-24","v":3.68},{"s":"⑫","d":"2015-12-28","v":3.6},{"s":"⑫","d":"2016-01-01","v":3.5},{"s":"⑫","d":"2016-01-04","v":3.4},{"s":"⑫","d":"2016-01-06","v":3.52},{"s":"⑫","d":"2016-01-09","v":3.55},{"s":"⑫","d":"2016-01-12","v":3.52},{"s":"⑫","d":"2016-01-13","v":3.52},{"s":"⑫","d":"2016-01-13T08:00Z","v":5.35},{"s":"⑫","d":"2016-01-13T16:00Z","v":3.52},{"s":"⑫","d":"2016-01-16","v":3.5},{"s":"⑫","d":"2016-01-17","v":3.5},{"s":"⑫","d":"2016-01-17T08:00Z","v":5.35},{"s":"⑫","d":"2016-01-17T16:00Z","v":3.48},{"s":"⑫","d":"2016-01-18","v":3.45},{"s":"⑫","d":"2016-01-19","v":3.55},{"s":"⑫","d":"2016-01-19T08:00Z","v":5.45},{"s":"⑫","d":"2016-01-19T16:00Z","v":3.58},{"s":"⑫","d":"2016-01-20","v":3.6},{"s":"⑫","d":"2016-01-20T08:00Z","v":5.5},{"s":"⑫","d":"2016-01-20T16:00Z","v":3.62},{"s":"⑫","d":"2016-01-22","v":3.75},{"s":"⑫","d":"2016-01-22T08:00Z","v":5.8},{"s":"⑫","d":"2016-01-22T16:00Z","v":3.8},{"s":"⑫","d":"2016-01-24","v":3.9},{"s":"⑫","d":"2016-01-24T08:00Z","v":5.75},{"s":"⑫","d":"2016-01-24T16:00Z","v":3.95},{"s":"⑫","d":"2016-01-25","v":4.1},{"s":"⑫","d":"2016-01-25T08:00Z","v":5.95},{"s":"⑫","d":"2016-01-25T16:00Z","v":4.2},{"s":"⑫","d":"2016-01-26","v":4.3},{"s":"⑫","d":"2016-01-26T08:00Z","v":6.3},{"s":"⑫","d":"2016-01-26T16:00Z","v":4.4},{"s":"⑫","d":"2016-01-27","v":4.45},{"s":"⑫","d":"2016-01-29","v":4.3},{"s":"⑫","d":"2016-02-01","v":4.1},{"s":"⑫","d":"2016-02-04","v":4.05},{"s":"⑫","d":"2016-02-04T08:00Z","v":5.65},{"s":"⑫","d":"2016-02-04T16:00Z","v":4.03},{"s":"⑫","d":"2016-02-06","v":4.0},{"s":"⑫","d":"2016-02-07","v":3.98},{"s":"⑫","d":"2016-02-07T08:00Z","v":5.85},{"s":"⑫","d":"2016-02-07T16:00Z","v":3.97},{"s":"⑫","d":"2016-02-08","v":3.95},{"s":"⑫","d":"2016-02-08T08:00Z","v":5.8},{"s":"⑫","d":"2016-02-08T16:00Z","v":3.93},{"s":"⑫","d":"2016-02-10","v":3.9},{"s":"⑫","d":"2016-02-12","v":3.85},{"s":"⑫","d":"2016-02-12T08:00Z","v":5.8},{"s":"⑫","d":"2016-02-12T16:00Z","v":3.84},{"s":"⑫","d":"2016-02-13","v":3.82},{"s":"⑫","d":"2016-02-13T08:00Z","v":5.8},{"s":"⑫","d":"2016-02-13T16:00Z","v":3.8},{"s":"⑫","d":"2016-02-15","v":3.72},{"s":"⑫","d":"2016-02-16","v":3.9},{"s":"⑫","d":"2016-02-16T12:00Z","v":6.0},{"s":"⑫","d":"2016-02-16T20:00Z","v":4.05},{"s":"⑫","d":"2016-02-17","v":4.2},{"s":"⑫","d":"2016-02-17T12:00Z","v":6.45},{"s":"⑫","d":"2016-02-17T20:00Z","v":4.35},{"s":"⑫","d":"2016-02-19","v":4.45},{"s":"⑫","d":"2016-02-20","v":4.4},{"s":"⑫","d":"2016-02-22","v":4.12},{"s":"⑫","d":"2016-02-24","v":3.95},{"s":"⑫","d":"2016-02-24T08:00Z","v":5.85},{"s":"⑫","d":"2016-02-24T16:00Z","v":3.92},{"s":"⑫","d":"2016-02-25","v":3.9},{"s":"⑫","d":"2016-02-25T08:00Z","v":5.8},{"s":"⑫","d":"2016-02-25T16:00Z","v":3.9},{"s":"⑫","d":"2016-02-26","v":3.88},{"s":"⑫","d":"2016-02-26T08:00Z","v":5.85},{"s":"⑫","d":"2016-02-26T16:00Z","v":3.85},{"s":"⑫","d":"2016-02-28","v":3.8},{"s":"⑫","d":"2016-02-29","v":3.78},{"s":"⑫","d":"2016-03-01","v":3.95},{"s":"⑫","d":"2016-03-01T08:00Z","v":5.95},{"s":"⑫","d":"2016-03-01T16:00Z","v":3.9},{"s":"⑫","d":"2016-03-02","v":3.85},{"s":"⑫","d":"2016-03-05","v":3.82},{"s":"⑫","d":"2016-03-08","v":3.8},{"s":"⑫","d":"2016-03-11","v":3.82},{"s":"⑫","d":"2016-03-14","v":3.75},{"s":"⑫","d":"2016-03-17","v":3.82},{"s":"⑫","d":"2016-03-21","v":3.8},{"s":"⑫","d":"2016-03-24","v":3.85},{"s":"⑫","d":"2016-03-28","v":3.82},{"s":"⑫","d":"2016-03-31","v":4.0},{"s":"⑫","d":"2016-04-02","v":4.1}
],
"tvl":[
{"k":"red","d":"2015-08-25T04:00Z","v":-0.2,"v2":11.7},{"k":"red","d":"2015-09-04T14:00Z","v":-0.2,"v2":11.7},
{"k":"orange","d":"2015-10-12T06:00Z","v":0.02,"v2":10.08},{"k":"orange","d":"2015-11-25T00:00Z","v":-0.22,"v2":10.08},
{"k":"green","d":"2016-01-18T00:00Z","v":-0.14,"v2":8.52},{"k":"green","d":"2016-03-01T16:00Z","v":-0.14,"v2":8.52},
{"k":"magenta","d":"2016-01-25T00:00Z","v":-0.06,"v2":8.58},{"k":"magenta","d":"2016-02-21T20:00Z","v":-0.06,"v2":8.58}
],
"bvl":[
{"k":"red","d":"2015-08-25T04:00Z","v":0,"v2":10.18},{"k":"red","d":"2015-09-04T14:00Z","v":0,"v2":10.18},
{"k":"orange","d":"2015-10-12T06:00Z","v":-0.1,"v2":10.18},{"k":"orange","d":"2015-11-25T00:00Z","v":0.9,"v2":10.18},
{"k":"green","d":"2016-01-18T00:00Z","v":1.04,"v2":10.18},{"k":"green","d":"2016-03-01T16:00Z","v":0.97,"v2":10.18},
{"k":"magenta","d":"2016-01-25T00:00Z","v":1.27,"v2":10.18},{"k":"magenta","d":"2016-02-21T20:00Z","v":1.27,"v2":10.18}
],
"tarr":[
{"k":"red","d":"2015-08-25T04:00Z","d2":"2015-09-04T14:00Z","v":9.0},
{"k":"orange","d":"2015-10-12T06:00Z","d2":"2015-11-25T00:00Z","v":8.93},
{"k":"magenta","d":"2016-01-25T00:00Z","d2":"2016-02-21T20:00Z","v":5.64},
{"k":"green","d":"2016-01-18T09:00Z","d2":"2016-03-01T22:00Z","v":8.4}
],
"barr":[
{"k":"red","d":"2015-08-25T04:00Z","d2":"2015-09-04T14:00Z","v":6.0},
{"k":"orange","d":"2015-10-12T06:00Z","d2":"2015-11-25T00:00Z","v":6.19},
{"k":"magenta","d":"2016-01-25T00:00Z","d2":"2016-02-21T20:00Z","v":7.52},
{"k":"green","d":"2016-01-18T09:00Z","d2":"2016-03-02T02:00Z","v":8.85}
],
"ttxt":[
{"t":"渇\u00a0\u00a0\u00a0水\u00a0\u00a0\u00a0期","d":"2015-11-04T02:00Z","v":8.93},
{"t":"試験揚水","d":"2016-02-09T05:00Z","v":5.64},
{"t":"消\u3000\u3000雪","d":"2016-02-09T07:00Z","v":8.4}
],
"btxt":[
{"t":"渇\u00a0\u00a0\u00a0水\u00a0\u00a0\u00a0期","d":"2015-11-04T10:00Z","v":6.42},
{"t":"試験揚水","d":"2016-02-08T12:00Z","v":7.52},
{"t":"消\u3000\u3000雪","d":"2016-02-09T07:00Z","v":8.89}
],
"tred":[{"t":"揚水試験","d":"2015-09-05T05:00Z","v":9.0}],
"bred":[{"t":"揚水試験","d":"2015-09-05T22:00Z","v":6.1}],
"tlab":[{"t":"⑥","d":"2016-04-04T12:00Z","v":1.24},{"t":"⑦","d":"2016-04-04T12:00Z","v":2.2},{"t":"⑧","d":"2016-04-04T12:00Z","v":3.66},{"t":"⑨","d":"2016-04-04T12:00Z","v":4.42},{"t":"⑩","d":"2016-04-04T12:00Z","v":7.36}],
"blab":[{"t":"⑭","d":"2016-04-04T12:00Z","v":2.03},{"t":"⑬","d":"2016-04-04T12:00Z","v":2.82},{"t":"⑯","d":"2016-04-04T12:00Z","v":3.51},{"t":"⑫","d":"2016-04-04T12:00Z","v":4.15},{"t":"⑪","d":"2016-04-04T12:00Z","v":4.86},{"t":"㉓八田灌漑","d":"2016-04-04T12:00Z","v":5.66}],
"diag":[
{"k":"red","d":"2015-08-06T12:00Z","v":10.1,"d2":"2015-08-24T05:00Z","v2":6.45},
{"k":"orange","d":"2015-10-08T21:00Z","v":10.1,"d2":"2015-10-26T01:00Z","v2":6.6},
{"k":"magenta","d":"2015-12-30T10:00Z","v":10.1,"d2":"2016-01-22T11:00Z","v2":7.81},
{"k":"green","d":"2016-03-14T08:00Z","v":10.1,"d2":"2016-03-03T05:00Z","v2":8.93}
]
},
"vconcat":[
{
 "width":2652,"height":500,
 "resolve":{"scale":{"color":"independent","strokeWidth":"independent","size":"independent","shape":"independent"}},
 "encoding":{
  "x":{"field":"d","type":"temporal","scale":{"type":"utc","domain":[{"year":2015,"month":7,"date":6,"utc":true},{"year":2016,"month":4,"date":4,"utc":true}]},
   "axis":{"orient":"top","title":null,"values":[{"year":2015,"month":7,"date":6,"utc":true},{"year":2015,"month":7,"date":20,"utc":true},{"year":2015,"month":8,"date":3,"utc":true},{"year":2015,"month":8,"date":17,"utc":true},{"year":2015,"month":8,"date":31,"utc":true},{"year":2015,"month":9,"date":14,"utc":true},{"year":2015,"month":9,"date":28,"utc":true},{"year":2015,"month":10,"date":12,"utc":true},{"year":2015,"month":10,"date":26,"utc":true},{"year":2015,"month":11,"date":9,"utc":true},{"year":2015,"month":11,"date":23,"utc":true},{"year":2015,"month":12,"date":7,"utc":true},{"year":2015,"month":12,"date":21,"utc":true},{"year":2016,"month":1,"date":4,"utc":true},{"year":2016,"month":1,"date":18,"utc":true},{"year":2016,"month":2,"date":1,"utc":true},{"year":2016,"month":2,"date":15,"utc":true},{"year":2016,"month":2,"date":29,"utc":true},{"year":2016,"month":3,"date":14,"utc":true},{"year":2016,"month":3,"date":28,"utc":true}],
   "labelExpr":"utcFormat(datum.value, '%-m/%-d')","tickSize":10,"labelPadding":17,"labelBaseline":"alphabetic","labelFlush":false,"labelOverlap":false,"grid":true}},
  "y":{"field":"v","type":"quantitative","scale":{"domain":[0,10],"reverse":true,"nice":false,"zero":false},
   "axis":{"title":null,"values":[0,2,4,6,8,10],"labelExpr":"replace(format(datum.value,'.1f'),'.','. ')","ticks":false,"labelPadding":47,"grid":true}}
 },
 "layer":[
  {"layer":[
   {"data":{"name":"top"},"transform":[{"filter":"datum.s === '⑦'"}],"mark":{"type":"line","strokeWidth":22,"strokeJoin":"round","strokeCap":"round"},
    "encoding":{"color":{"field":"s","type":"nominal","scale":{"domain":["⑦","⑥","⑧","⑨","⑩"],"range":["#4170A8","#A5403E","#8AAB4B","#6A5292","#3E97AF"]},
      "legend":{"title":null,"orient":"none","legendX":1551,"legendY":445,"direction":"horizontal","columnPadding":97,"symbolStrokeWidth":6}}}},
   {"data":{"name":"top"},"transform":[{"filter":"datum.s !== '⑦'"}],"mark":{"type":"line","strokeWidth":8,"strokeJoin":"round","strokeCap":"round"},
    "encoding":{"color":{"field":"s","type":"nominal","scale":{"domain":["⑦","⑥","⑧","⑨","⑩"],"range":["#4170A8","#A5403E","#8AAB4B","#6A5292","#3E97AF"]},
      "legend":{"title":null,"orient":"none","legendX":1551,"legendY":445,"direction":"horizontal","columnPadding":97,"symbolStrokeWidth":6}}}}
  ]},
  {"data":{"name":"tvl"},"mark":{"type":"rule","strokeDash":[6,8],"strokeWidth":6},
   "encoding":{"y2":{"field":"v2"},"color":{"field":"k","type":"nominal","scale":{"domain":["red","orange","magenta","green"],"range":["#FF0000","#FFC000","#FF66FF","#00B050"]},"legend":null}}},
  {"data":{"name":"tarr"},"mark":{"type":"rule","xOffset":14,"x2Offset":-14},
   "encoding":{"x2":{"field":"d2"},"color":{"field":"k","type":"nominal","scale":{"domain":["red","orange","magenta","green"],"range":["#FF0000","#FFC000","#FF66FF","#00B050"]},"legend":null},
    "strokeWidth":{"field":"k","type":"nominal","scale":{"domain":["red","orange","magenta","green"],"range":[19,38,38,44]},"legend":null}}},
  {"data":{"name":"tarr"},"mark":{"type":"point","filled":true,"opacity":1,"strokeWidth":0,"shape":"M0,0L0.65,-1L0.65,1Z"},
   "encoding":{"color":{"field":"k","type":"nominal","scale":{"domain":["red","orange","magenta","green"],"range":["#FF0000","#FFC000","#FF66FF","#00B050"]},"legend":null},
    "size":{"field":"k","type":"nominal","scale":{"domain":["red","orange","magenta","green"],"range":[2116,5329,4761,7056]},"legend":null}}},
  {"data":{"name":"tarr"},"mark":{"type":"point","filled":true,"opacity":1,"strokeWidth":0,"shape":"M0,0L-0.65,-1L-0.65,1Z"},
   "encoding":{"x":{"field":"d2","type":"temporal"},"color":{"field":"k","type":"nominal","scale":{"domain":["red","orange","magenta","green"],"range":["#FF0000","#FFC000","#FF66FF","#00B050"]},"legend":null},
    "size":{"field":"k","type":"nominal","scale":{"domain":["red","orange","magenta","green"],"range":[2116,5329,4761,7056]},"legend":null}}},
  {"data":{"name":"ttxt"},"mark":{"type":"text","font":"Noto Sans CJK JP","fontSize":37,"fontWeight":"bold","color":"white","align":"center","baseline":"middle"},"encoding":{"text":{"field":"t"}}},
  {"data":{"name":"tred"},"mark":{"type":"text","font":"Noto Sans CJK JP","fontSize":37,"fontWeight":"bold","color":"#FF0000","align":"left","baseline":"middle"},"encoding":{"text":{"field":"t"}}},
  {"data":{"name":"tlab"},"mark":{"type":"text","font":"Noto Sans CJK JP","fontSize":40,"color":"black","align":"left","baseline":"middle"},"encoding":{"text":{"field":"t"}}},
  {"data":{"values":[{"t":"地下水位(GL-m)","d":"2015-06-22T07:00Z","v":5.68}]},"mark":{"type":"text","font":"Noto Sans CJK JP","fontSize":38,"fontWeight":"bold","color":"black","angle":270,"align":"center","baseline":"middle"},"encoding":{"text":{"field":"t"}}},
  {"data":{"values":[{"d":"2015-07-07","d2":"2016-04-04","v":10}]},"mark":{"type":"rule","color":"black","strokeWidth":3.5},"encoding":{"x2":{"field":"d2"}}},
  {"data":{"values":[{"d":"2015-07-23T04:00Z","d2":"2016-03-08","v":-1.33}]},"mark":{"type":"rule","color":"black","strokeWidth":3},"encoding":{"x2":{"field":"d2"}}}
 ]
},
{
 "width":2652,"height":521,
 "resolve":{"scale":{"color":"independent","strokeWidth":"independent","size":"independent","shape":"independent"}},
 "encoding":{
  "x":{"field":"d","type":"temporal","scale":{"type":"utc","domain":[{"year":2015,"month":7,"date":6,"utc":true},{"year":2016,"month":4,"date":4,"utc":true}]},
   "axis":{"orient":"top","title":null,"values":[{"year":2015,"month":7,"date":6,"utc":true},{"year":2015,"month":7,"date":20,"utc":true},{"year":2015,"month":8,"date":3,"utc":true},{"year":2015,"month":8,"date":17,"utc":true},{"year":2015,"month":8,"date":31,"utc":true},{"year":2015,"month":9,"date":14,"utc":true},{"year":2015,"month":9,"date":28,"utc":true},{"year":2015,"month":10,"date":12,"utc":true},{"year":2015,"month":10,"date":26,"utc":true},{"year":2015,"month":11,"date":9,"utc":true},{"year":2015,"month":11,"date":23,"utc":true},{"year":2015,"month":12,"date":7,"utc":true},{"year":2015,"month":12,"date":21,"utc":true},{"year":2016,"month":1,"date":4,"utc":true},{"year":2016,"month":1,"date":18,"utc":true},{"year":2016,"month":2,"date":1,"utc":true},{"year":2016,"month":2,"date":15,"utc":true},{"year":2016,"month":2,"date":29,"utc":true},{"year":2016,"month":3,"date":14,"utc":true},{"year":2016,"month":3,"date":28,"utc":true}],
   "labelExpr":"utcFormat(datum.value, '%-m/%-d')","tickSize":10,"labelPadding":17,"labelBaseline":"alphabetic","labelFlush":false,"labelOverlap":false,"grid":true}},
  "y":{"field":"v","type":"quantitative","scale":{"domain":[0,10],"reverse":true,"nice":false,"zero":false},
   "axis":{"title":null,"values":[0,2,4,6,8,10],"labelExpr":"replace(format(datum.value,'.1f'),'.','. ')","ticks":false,"labelPadding":47,"grid":true}}
 },
 "layer":[
  {"layer":[
   {"data":{"name":"bot"},"transform":[{"filter":"datum.s === '㉓八田町灌漑'"}],"mark":{"type":"line","strokeWidth":6,"strokeJoin":"round"},
    "encoding":{"color":{"field":"s","type":"nominal","scale":{"domain":["⑪","⑬","⑭","⑯","㉓八田町灌漑","⑫"],"range":["#4170A8","#8AAB4B","#A5403E","#3E97AF","#8DA6CC","#6A5292"]},
      "legend":{"title":null,"orient":"none","legendX":1269,"legendY":10,"direction":"horizontal","columnPadding":73,"symbolStrokeWidth":6}}}},
   {"data":{"name":"bot"},"transform":[{"filter":"datum.s !== '㉓八田町灌漑'"}],"mark":{"type":"line","strokeWidth":7,"strokeJoin":"round","strokeCap":"round"},
    "encoding":{"color":{"field":"s","type":"nominal","scale":{"domain":["⑪","⑬","⑭","⑯","㉓八田町灌漑","⑫"],"range":["#4170A8","#8AAB4B","#A5403E","#3E97AF","#8DA6CC","#6A5292"]},
      "legend":{"title":null,"orient":"none","legendX":1269,"legendY":10,"direction":"horizontal","columnPadding":73,"symbolStrokeWidth":6}}}}
  ]},
  {"data":{"name":"bvl"},"mark":{"type":"rule","strokeDash":[6,8],"strokeWidth":6},
   "encoding":{"y2":{"field":"v2"},"color":{"field":"k","type":"nominal","scale":{"domain":["red","orange","magenta","green"],"range":["#FF0000","#FFC000","#FF66FF","#00B050"]},"legend":null}}},
  {"data":{"name":"diag"},"mark":{"type":"rule","strokeDash":[7,6],"strokeWidth":7},
   "encoding":{"x2":{"field":"d2"},"y2":{"field":"v2"},"color":{"field":"k","type":"nominal","scale":{"domain":["red","orange","magenta","green"],"range":["#FF0000","#FFC000","#FF66FF","#00B050"]},"legend":null}}},
  {"data":{"name":"diag"},"mark":{"type":"point","filled":true,"opacity":1,"strokeWidth":0,"size":400},
   "encoding":{"x":{"field":"d2","type":"temporal"},"y":{"field":"v2","type":"quantitative"},"color":{"field":"k","type":"nominal","scale":{"domain":["red","orange","magenta","green"],"range":["#FF0000","#FFC000","#FF66FF","#00B050"]},"legend":null},
    "shape":{"field":"k","type":"nominal","scale":{"domain":["red","orange","magenta","green"],"range":["M0,0L-0.986,2.882L-2.766,1.274Z","M0,0L-1.009,2.875L-2.777,1.253Z","M0,0L-1.893,2.389L-3.035,0.277Z","M0,0L3.021,0.399L1.795,2.463Z"]},"legend":null}}},
  {"data":{"name":"barr"},"mark":{"type":"rule","xOffset":14,"x2Offset":-14},
   "encoding":{"x2":{"field":"d2"},"color":{"field":"k","type":"nominal","scale":{"domain":["red","orange","magenta","green"],"range":["#FF0000","#FFC000","#FF66FF","#00B050"]},"legend":null},
    "strokeWidth":{"field":"k","type":"nominal","scale":{"domain":["red","orange","magenta","green"],"range":[24,38,37,42]},"legend":null}}},
  {"data":{"name":"barr"},"mark":{"type":"point","filled":true,"opacity":1,"strokeWidth":0,"shape":"M0,0L0.65,-1L0.65,1Z"},
   "encoding":{"color":{"field":"k","type":"nominal","scale":{"domain":["red","orange","magenta","green"],"range":["#FF0000","#FFC000","#FF66FF","#00B050"]},"legend":null},
    "size":{"field":"k","type":"nominal","scale":{"domain":["red","orange","magenta","green"],"range":[2116,5329,5041,6241]},"legend":null}}},
  {"data":{"name":"barr"},"mark":{"type":"point","filled":true,"opacity":1,"strokeWidth":0,"shape":"M0,0L-0.65,-1L-0.65,1Z"},
   "encoding":{"x":{"field":"d2","type":"temporal"},"color":{"field":"k","type":"nominal","scale":{"domain":["red","orange","magenta","green"],"range":["#FF0000","#FFC000","#FF66FF","#00B050"]},"legend":null},
    "size":{"field":"k","type":"nominal","scale":{"domain":["red","orange","magenta","green"],"range":[2116,5329,5041,6241]},"legend":null}}},
  {"data":{"name":"btxt"},"mark":{"type":"text","font":"Noto Sans CJK JP","fontSize":37,"fontWeight":"bold","color":"white","align":"center","baseline":"middle"},"encoding":{"text":{"field":"t"}}},
  {"data":{"name":"bred"},"mark":{"type":"text","font":"Noto Sans CJK JP","fontSize":37,"fontWeight":"bold","color":"#FF0000","align":"left","baseline":"middle"},"encoding":{"text":{"field":"t"}}},
  {"data":{"name":"blab"},"transform":[{"filter":"datum.t !== '㉓八田灌漑'"}],"mark":{"type":"text","font":"Noto Sans CJK JP","fontSize":40,"color":"black","align":"left","baseline":"middle"},"encoding":{"text":{"field":"t"}}},
  {"data":{"name":"blab"},"transform":[{"filter":"datum.t === '㉓八田灌漑'"}],"mark":{"type":"text","font":"Noto Sans CJK JP","fontSize":37,"color":"black","align":"left","baseline":"middle"},"encoding":{"text":{"field":"t"}}},
  {"data":{"values":[{"t":"地下水位(GL-m)","d":"2015-06-22T07:00Z","v":5.43}]},"mark":{"type":"text","font":"Noto Sans CJK JP","fontSize":38,"fontWeight":"bold","color":"black","angle":270,"align":"center","baseline":"middle"},"encoding":{"text":{"field":"t"}}},
  {"data":{"values":[{"d":"2016-04-04","v":0,"v2":10}]},"mark":{"type":"rule","color":"black","strokeWidth":2.5},"encoding":{"y2":{"field":"v2"}}},
  {"data":{"values":[{"d":"2015-07-07","d2":"2016-04-04","v":10}]},"mark":{"type":"rule","color":"black","strokeWidth":3.5},"encoding":{"x2":{"field":"d2"}}}
 ]
}
]
}
